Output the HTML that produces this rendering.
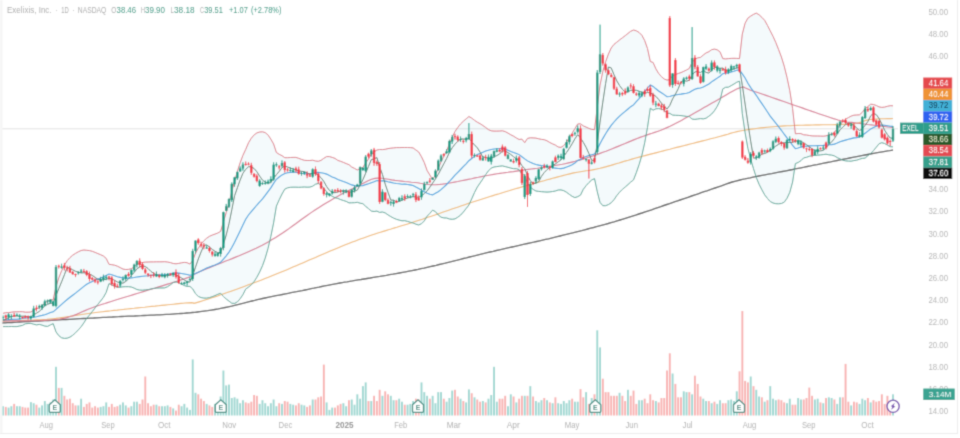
<!DOCTYPE html>
<html><head><meta charset="utf-8">
<style>
html,body{margin:0;padding:0;background:#fff;}
body{width:960px;height:438px;overflow:hidden;position:relative;font-family:"Liberation Sans",sans-serif;}
#chart{position:absolute;left:0;top:0;}
</style></head><body>
<svg id="chart" width="960" height="438" viewBox="0 0 960 438">
<defs><filter id="bl" x="-1%" y="-1%" width="102%" height="102%"><feConvolveMatrix order="3" kernelMatrix="0.02768 0.11101 0.02768 0.11101 0.44521 0.11101 0.02768 0.11101 0.02768" edgeMode="duplicate" preserveAlpha="false"/></filter></defs>
<rect width="960" height="438" fill="#fff"/>
<g filter="url(#bl)">
<rect width="960" height="438" fill="#fff"/>
<line x1="2" y1="128.8" x2="898" y2="128.8" stroke="#e3e3e3" stroke-width="1"/>
<path d="M3.0,313.3 L5.8,312.7 L8.6,312.6 L11.4,312.2 L14.1,311.8 L16.9,311.8 L19.7,311.7 L22.5,311.7 L25.3,312.2 L28.1,312.2 L30.9,312.0 L33.7,310.2 L36.5,308.8 L39.3,307.6 L42.0,305.7 L44.8,303.2 L47.6,301.0 L50.4,300.2 L53.2,299.8 L56.0,286.6 L58.8,277.8 L61.6,270.8 L64.4,265.3 L67.2,260.7 L70.0,257.6 L72.7,255.2 L75.5,253.4 L78.3,251.8 L81.1,250.5 L83.9,250.0 L86.7,250.3 L89.5,250.6 L92.3,251.3 L95.1,252.4 L97.9,253.6 L100.6,254.7 L103.4,256.0 L106.2,258.4 L109.0,264.3 L111.8,264.7 L114.6,265.2 L117.4,266.2 L120.2,267.6 L123.0,269.1 L125.8,269.5 L128.5,269.4 L131.3,268.7 L134.1,266.9 L136.9,264.4 L139.7,263.2 L142.5,262.5 L145.3,262.1 L148.1,262.0 L150.9,261.9 L153.6,261.9 L156.4,261.8 L159.2,261.8 L162.0,261.8 L164.8,261.7 L167.6,262.0 L170.4,262.6 L173.2,263.5 L176.0,263.8 L178.8,263.4 L181.5,262.8 L184.3,262.4 L187.1,262.7 L189.9,264.1 L192.7,260.6 L195.5,253.3 L198.3,248.1 L201.1,244.1 L203.9,240.8 L206.7,238.2 L209.5,236.3 L212.2,235.1 L215.0,234.1 L217.8,233.0 L220.6,231.4 L223.4,221.9 L226.2,212.6 L229.0,203.2 L231.8,191.6 L234.6,181.0 L237.4,171.3 L240.1,162.9 L242.9,155.4 L245.7,149.4 L248.5,142.8 L251.3,138.2 L254.1,134.9 L256.9,132.9 L259.7,132.0 L262.5,131.8 L265.2,132.6 L268.0,134.9 L270.8,139.1 L273.6,144.0 L276.4,152.5 L279.2,154.3 L282.0,155.7 L284.8,157.7 L287.6,157.7 L290.4,157.5 L293.1,157.4 L295.9,157.4 L298.7,158.3 L301.5,159.4 L304.3,160.3 L307.1,160.5 L309.9,160.5 L312.7,160.2 L315.5,161.0 L318.3,161.3 L321.0,160.4 L323.8,158.3 L326.6,156.6 L329.4,156.6 L332.2,157.4 L335.0,158.4 L337.8,160.4 L340.6,161.3 L343.4,162.4 L346.2,163.6 L349.0,164.7 L351.7,167.0 L354.5,168.4 L357.3,170.0 L360.1,168.5 L362.9,167.4 L365.7,162.9 L368.5,159.1 L371.3,154.2 L374.1,152.0 L376.9,150.0 L379.6,149.5 L382.4,149.6 L385.2,149.3 L388.0,148.6 L390.8,148.2 L393.6,147.9 L396.4,147.6 L399.2,147.6 L402.0,147.5 L404.8,147.5 L407.5,147.5 L410.3,147.6 L413.1,147.9 L415.9,150.0 L418.7,152.0 L421.5,156.8 L424.3,162.6 L427.1,170.5 L429.9,175.1 L432.6,179.6 L435.4,175.1 L438.2,168.7 L441.0,161.9 L443.8,156.3 L446.6,150.9 L449.4,143.9 L452.2,137.2 L455.0,131.5 L457.8,127.4 L460.6,123.9 L463.3,121.3 L466.1,118.9 L468.9,116.5 L471.7,118.1 L474.5,120.3 L477.3,122.2 L480.1,123.7 L482.9,125.5 L485.7,127.5 L488.4,129.6 L491.2,130.8 L494.0,131.1 L496.8,131.1 L499.6,131.0 L502.4,130.8 L505.2,131.6 L508.0,133.1 L510.8,134.8 L513.6,136.2 L516.4,138.0 L519.1,139.5 L521.9,139.1 L524.7,142.7 L527.5,138.4 L530.3,137.8 L533.1,137.9 L535.9,138.1 L538.7,138.8 L541.5,139.4 L544.2,139.7 L547.0,140.8 L549.8,142.5 L552.6,143.9 L555.4,145.1 L558.2,147.0 L561.0,147.4 L563.8,145.5 L566.6,142.0 L569.4,137.4 L572.1,133.2 L574.9,128.6 L577.7,124.0 L580.5,123.8 L583.3,125.9 L586.1,127.1 L588.9,128.4 L591.7,129.4 L594.5,129.7 L597.3,106.9 L600.0,85.2 L602.8,71.5 L605.6,61.8 L608.4,54.2 L611.2,48.0 L614.0,44.4 L616.8,42.2 L619.6,39.9 L622.4,37.8 L625.2,35.7 L628.0,33.4 L630.7,31.3 L633.5,30.0 L636.3,30.8 L639.1,32.5 L641.9,35.3 L644.7,40.6 L647.5,48.6 L650.3,61.5 L653.1,62.5 L655.9,68.9 L658.6,73.4 L661.4,76.6 L664.2,79.0 L667.0,80.1 L669.8,79.6 L672.6,75.8 L675.4,74.7 L678.2,73.5 L681.0,72.6 L683.8,71.3 L686.5,70.0 L689.3,68.4 L692.1,62.3 L694.9,59.2 L697.7,57.9 L700.5,57.4 L703.3,55.0 L706.1,52.9 L708.9,51.7 L711.6,49.7 L714.4,49.1 L717.2,49.8 L720.0,51.8 L722.8,58.6 L725.6,58.9 L728.4,58.6 L731.2,58.4 L734.0,58.3 L736.8,58.4 L739.5,58.6 L742.3,34.1 L745.1,23.2 L747.9,18.1 L750.7,16.1 L753.5,14.4 L756.3,13.1 L759.1,14.8 L761.9,17.4 L764.7,20.4 L767.5,25.5 L770.2,30.8 L773.0,36.3 L775.8,42.5 L778.6,49.6 L781.4,57.0 L784.2,66.1 L787.0,77.4 L789.8,90.7 L792.6,108.6 L795.4,133.8 L798.1,133.5 L800.9,133.6 L803.7,134.8 L806.5,135.0 L809.3,135.5 L812.1,135.9 L814.9,136.0 L817.7,136.0 L820.5,136.1 L823.2,136.2 L826.0,135.9 L828.8,134.7 L831.6,134.0 L834.4,132.3 L837.2,128.7 L840.0,124.8 L842.8,121.6 L845.6,119.2 L848.4,117.6 L851.1,116.1 L853.9,115.2 L856.7,115.0 L859.5,114.8 L862.3,112.3 L865.1,108.5 L867.9,106.5 L870.7,104.2 L873.5,104.5 L876.3,105.5 L879.0,106.9 L881.8,107.4 L884.6,107.1 L887.4,106.3 L890.2,105.7 L893.0,105.8 L893.0,146.9 L890.2,146.7 L887.4,145.1 L884.6,143.5 L881.8,142.7 L879.0,143.8 L876.3,147.2 L873.5,150.6 L870.7,153.6 L867.9,155.7 L865.1,158.1 L862.3,158.4 L859.5,159.2 L856.7,160.2 L853.9,160.6 L851.1,161.2 L848.4,161.1 L845.6,160.9 L842.8,160.2 L840.0,158.9 L837.2,157.6 L834.4,155.9 L831.6,155.1 L828.8,154.8 L826.0,154.2 L823.2,154.6 L820.5,154.9 L817.7,155.2 L814.9,155.4 L812.1,155.6 L809.3,156.3 L806.5,157.3 L803.7,157.9 L800.9,160.7 L798.1,162.5 L795.4,163.6 L792.6,182.0 L789.8,192.3 L787.0,198.3 L784.2,202.2 L781.4,203.5 L778.6,203.8 L775.8,203.7 L773.0,203.0 L770.2,201.5 L767.5,198.5 L764.7,194.9 L761.9,189.8 L759.1,184.3 L756.3,177.5 L753.5,168.7 L750.7,159.1 L747.9,148.4 L745.1,132.7 L742.3,113.7 L739.5,81.2 L736.8,82.2 L734.0,84.0 L731.2,85.6 L728.4,87.2 L725.6,87.3 L722.8,88.9 L720.0,100.5 L717.2,106.4 L714.4,110.8 L711.6,114.1 L708.9,116.2 L706.1,118.2 L703.3,118.9 L700.5,118.6 L697.7,119.0 L694.9,119.4 L692.1,119.1 L689.3,116.6 L686.5,116.4 L683.8,116.0 L681.0,115.6 L678.2,115.4 L675.4,115.3 L672.6,115.1 L669.8,113.4 L667.0,113.2 L664.2,110.2 L661.4,109.1 L658.6,108.6 L655.9,108.8 L653.1,110.2 L650.3,108.2 L647.5,127.4 L644.7,142.8 L641.9,155.3 L639.1,164.6 L636.3,172.7 L633.5,179.9 L630.7,182.1 L628.0,184.6 L625.2,187.0 L622.4,189.4 L619.6,192.2 L616.8,195.5 L614.0,199.7 L611.2,202.8 L608.4,204.6 L605.6,205.7 L602.8,205.7 L600.0,202.4 L597.3,191.8 L594.5,178.6 L591.7,180.0 L588.9,182.6 L586.1,185.7 L583.3,189.3 L580.5,195.1 L577.7,196.7 L574.9,197.6 L572.1,196.3 L569.4,194.4 L566.6,192.3 L563.8,190.7 L561.0,189.9 L558.2,190.0 L555.4,191.0 L552.6,191.5 L549.8,191.9 L547.0,192.1 L544.2,191.9 L541.5,191.7 L538.7,191.4 L535.9,191.0 L533.1,189.4 L530.3,186.8 L527.5,183.4 L524.7,175.2 L521.9,174.5 L519.1,169.6 L516.4,168.7 L513.6,168.7 L510.8,168.1 L508.0,167.3 L505.2,166.6 L502.4,165.9 L499.6,166.2 L496.8,166.6 L494.0,167.0 L491.2,168.1 L488.4,170.9 L485.7,174.6 L482.9,178.9 L480.1,183.0 L477.3,187.1 L474.5,192.5 L471.7,198.9 L468.9,205.0 L466.1,208.6 L463.3,212.1 L460.6,215.1 L457.8,217.2 L455.0,218.9 L452.2,219.3 L449.4,219.0 L446.6,218.0 L443.8,217.9 L441.0,217.2 L438.2,214.9 L435.4,211.6 L432.6,210.2 L429.9,213.3 L427.1,216.2 L424.3,220.9 L421.5,223.7 L418.7,225.0 L415.9,224.2 L413.1,223.0 L410.3,222.3 L407.5,221.4 L404.8,220.7 L402.0,220.8 L399.2,220.1 L396.4,219.3 L393.6,218.1 L390.8,216.6 L388.0,214.9 L385.2,212.9 L382.4,212.0 L379.6,212.4 L376.9,211.1 L374.1,211.5 L371.3,211.1 L368.5,208.6 L365.7,206.4 L362.9,203.7 L360.1,203.2 L357.3,202.3 L354.5,202.7 L351.7,202.8 L349.0,202.9 L346.2,201.4 L343.4,200.5 L340.6,199.6 L337.8,198.4 L335.0,197.7 L332.2,196.3 L329.4,194.5 L326.6,191.7 L323.8,188.3 L321.0,185.0 L318.3,183.5 L315.5,184.2 L312.7,186.2 L309.9,187.1 L307.1,187.2 L304.3,187.0 L301.5,187.2 L298.7,187.3 L295.9,187.2 L293.1,187.2 L290.4,187.3 L287.6,187.8 L284.8,189.1 L282.0,194.0 L279.2,199.8 L276.4,206.1 L273.6,222.9 L270.8,236.6 L268.0,248.5 L265.2,258.2 L262.5,265.7 L259.7,271.9 L256.9,277.2 L254.1,281.6 L251.3,284.9 L248.5,287.1 L245.7,289.1 L242.9,294.7 L240.1,298.8 L237.4,301.9 L234.6,303.4 L231.8,303.3 L229.0,301.1 L226.2,299.0 L223.4,296.5 L220.6,293.3 L217.8,294.3 L215.0,295.6 L212.2,296.7 L209.5,297.6 L206.7,298.1 L203.9,298.1 L201.1,297.6 L198.3,296.4 L195.5,293.7 L192.7,288.9 L189.9,286.4 L187.1,286.4 L184.3,285.6 L181.5,284.1 L178.8,282.7 L176.0,281.9 L173.2,282.6 L170.4,284.8 L167.6,286.7 L164.8,287.9 L162.0,288.0 L159.2,288.0 L156.4,288.1 L153.6,288.4 L150.9,289.0 L148.1,289.6 L145.3,289.9 L142.5,290.2 L139.7,290.1 L136.9,289.5 L134.1,288.1 L131.3,287.0 L128.5,286.7 L125.8,286.7 L123.0,286.8 L120.2,287.2 L117.4,287.3 L114.6,286.3 L111.8,284.9 L109.0,283.6 L106.2,292.4 L103.4,297.4 L100.6,301.0 L97.9,304.3 L95.1,307.9 L92.3,311.5 L89.5,315.1 L86.7,318.3 L83.9,322.8 L81.1,326.8 L78.3,329.9 L75.5,332.8 L72.7,335.3 L70.0,337.1 L67.2,338.2 L64.4,338.4 L61.6,337.8 L58.8,335.7 L56.0,331.9 L53.2,323.7 L50.4,324.9 L47.6,326.4 L44.8,326.1 L42.0,325.1 L39.3,324.4 L36.5,324.9 L33.7,324.2 L30.9,323.4 L28.1,323.5 L25.3,323.8 L22.5,325.4 L19.7,326.0 L16.9,326.6 L14.1,326.6 L11.4,326.5 L8.6,326.6 L5.8,326.6 L3.0,326.6 Z" fill="#3aa6c0" fill-opacity="0.055" stroke="none"/>
<path d="M2.0,323.0 L3.6,322.9 L5.4,322.8 L7.4,322.7 L9.5,322.6 L11.8,322.5 L14.3,322.3 L16.9,322.2 L19.6,322.0 L22.4,321.9 L25.3,321.7 L28.4,321.6 L31.5,321.4 L34.7,321.2 L38.0,321.0 L41.3,320.9 L44.8,320.7 L48.2,320.5 L51.7,320.3 L55.2,320.1 L58.8,319.9 L62.4,319.7 L65.9,319.5 L69.5,319.3 L73.1,319.1 L76.6,318.9 L80.1,318.7 L83.6,318.5 L87.0,318.3 L90.3,318.1 L93.6,318.0 L96.9,317.8 L100.0,317.6 L103.0,317.4 L106.1,317.3 L109.1,317.1 L112.3,317.0 L115.4,316.8 L118.5,316.7 L121.7,316.5 L124.9,316.4 L128.1,316.2 L131.3,316.1 L134.5,316.0 L137.7,315.8 L140.9,315.7 L144.1,315.5 L147.3,315.4 L150.5,315.2 L153.6,315.1 L156.8,314.9 L159.9,314.8 L163.0,314.6 L166.1,314.4 L169.2,314.3 L172.2,314.1 L175.2,313.9 L178.1,313.7 L181.1,313.5 L183.9,313.3 L186.7,313.0 L189.5,312.8 L192.2,312.5 L194.9,312.3 L197.5,312.0 L200.0,311.7 L203.9,311.2 L207.7,310.7 L211.3,310.1 L214.9,309.5 L218.4,308.9 L221.9,308.2 L225.2,307.5 L228.4,306.8 L231.6,306.1 L234.7,305.3 L237.8,304.6 L240.7,303.9 L243.6,303.2 L246.5,302.4 L249.3,301.7 L252.0,301.0 L254.7,300.4 L257.3,299.7 L259.9,299.1 L262.5,298.5 L265.0,298.0 L268.9,297.2 L272.6,296.4 L276.0,295.7 L279.3,295.1 L282.4,294.5 L285.4,293.9 L288.3,293.3 L291.1,292.7 L293.9,292.2 L296.6,291.7 L299.4,291.1 L302.2,290.6 L305.0,290.0 L308.2,289.3 L311.1,288.7 L313.8,288.2 L316.4,287.6 L319.0,287.1 L321.7,286.5 L324.5,285.9 L327.7,285.3 L331.3,284.6 L335.3,283.9 L340.0,283.0 L342.3,282.6 L344.6,282.2 L347.1,281.8 L349.7,281.3 L352.4,280.9 L355.2,280.4 L358.1,279.9 L361.0,279.5 L364.1,279.0 L367.1,278.5 L370.2,278.0 L373.4,277.4 L376.6,276.9 L379.8,276.4 L383.1,275.8 L386.3,275.3 L389.6,274.7 L392.9,274.2 L396.1,273.6 L399.4,273.0 L402.6,272.4 L405.7,271.8 L408.9,271.2 L412.0,270.6 L415.0,270.0 L418.0,269.4 L421.0,268.7 L424.0,268.1 L427.1,267.4 L430.1,266.7 L433.1,266.0 L436.1,265.3 L439.2,264.5 L442.2,263.8 L445.2,263.1 L448.3,262.3 L451.3,261.6 L454.3,260.8 L457.3,260.1 L460.4,259.3 L463.4,258.5 L466.4,257.8 L469.4,257.0 L472.3,256.3 L475.3,255.6 L478.3,254.8 L481.2,254.1 L484.2,253.4 L487.1,252.7 L490.0,252.0 L493.2,251.3 L496.3,250.5 L499.5,249.8 L502.6,249.1 L505.7,248.4 L508.9,247.7 L512.0,247.0 L515.1,246.3 L518.2,245.6 L521.3,244.9 L524.4,244.2 L527.5,243.5 L530.5,242.8 L533.6,242.2 L536.6,241.5 L539.6,240.8 L542.6,240.1 L545.5,239.4 L548.5,238.8 L551.4,238.1 L554.3,237.4 L557.2,236.7 L560.0,236.0 L563.2,235.2 L566.4,234.4 L569.5,233.6 L572.6,232.9 L575.7,232.1 L578.7,231.3 L581.7,230.6 L584.7,229.8 L587.7,229.0 L590.6,228.2 L593.6,227.5 L596.5,226.7 L599.4,225.9 L602.3,225.1 L605.2,224.3 L608.2,223.5 L611.1,222.6 L614.0,221.8 L617.0,220.9 L620.0,220.0 L623.0,219.1 L626.1,218.1 L629.2,217.1 L632.4,216.1 L635.6,215.1 L638.8,214.0 L642.0,213.0 L645.2,211.9 L648.4,210.8 L651.6,209.8 L654.7,208.7 L657.8,207.6 L660.8,206.6 L663.8,205.5 L666.8,204.5 L669.6,203.6 L672.4,202.6 L675.0,201.7 L677.6,200.8 L680.0,200.0 L684.2,198.6 L688.0,197.3 L691.6,196.0 L695.0,194.9 L698.2,193.8 L701.2,192.7 L704.1,191.7 L706.9,190.8 L709.6,189.8 L712.3,188.9 L715.0,188.0 L718.4,186.8 L721.4,185.8 L724.0,184.8 L726.6,183.9 L729.2,183.0 L732.2,182.0 L735.7,181.1 L740.0,180.0 L742.4,179.4 L744.9,178.9 L747.5,178.3 L750.2,177.8 L752.9,177.2 L755.8,176.6 L758.8,176.0 L761.9,175.4 L765.0,174.8 L768.3,174.2 L771.7,173.6 L775.2,172.9 L778.7,172.2 L782.4,171.5 L786.1,170.8 L790.0,170.0 L792.6,169.5 L795.3,168.9 L798.1,168.4 L801.1,167.8 L804.2,167.2 L807.3,166.5 L810.5,165.9 L813.8,165.2 L817.1,164.6 L820.5,163.9 L823.8,163.2 L827.2,162.5 L830.6,161.9 L833.9,161.2 L837.2,160.5 L840.4,159.9 L843.6,159.2 L846.7,158.6 L849.7,158.0 L852.6,157.4 L855.4,156.9 L858.0,156.4 L860.5,155.9 L862.8,155.4 L865.0,155.0 L870.3,154.0 L874.9,153.1 L878.9,152.4 L882.2,151.8 L885.1,151.3 L887.5,150.9 L889.6,150.6 L891.4,150.3 L893.0,150.0" fill="none" stroke="#555555" stroke-width="1.35"/>
<path d="M2.0,321.0 L3.7,320.9 L5.7,320.9 L8.0,320.8 L10.6,320.8 L13.4,320.7 L16.4,320.6 L19.6,320.5 L22.9,320.4 L26.3,320.3 L29.7,320.2 L33.2,320.1 L36.7,319.9 L40.2,319.7 L43.6,319.5 L46.9,319.3 L50.0,319.0 L53.0,318.7 L55.9,318.4 L58.8,318.0 L61.5,317.6 L64.3,317.2 L67.1,316.8 L69.9,316.4 L72.7,315.9 L75.6,315.5 L78.6,315.0 L81.7,314.5 L85.0,314.0 L88.4,313.5 L92.1,313.0 L95.9,312.5 L100.0,312.0 L102.5,311.7 L105.2,311.4 L108.0,311.1 L110.9,310.8 L114.0,310.4 L117.2,310.1 L120.4,309.7 L123.8,309.4 L127.2,309.0 L130.6,308.6 L134.1,308.3 L137.7,307.9 L141.2,307.5 L144.7,307.2 L148.2,306.8 L151.6,306.4 L155.0,306.1 L158.4,305.7 L161.6,305.4 L164.8,305.1 L167.9,304.8 L170.8,304.5 L173.6,304.2 L176.2,303.9 L178.7,303.6 L181.0,303.4 L183.1,303.2 L185.0,303.0 L191.7,302.6 L193.6,302.9 L193.8,303.4 L194.9,303.1 L200.0,301.6 L202.0,301.0 L204.2,300.3 L206.6,299.5 L209.1,298.7 L211.8,297.8 L214.6,296.9 L217.6,295.9 L220.7,294.8 L223.8,293.7 L227.1,292.6 L230.4,291.4 L233.8,290.2 L237.3,289.0 L240.7,287.7 L244.2,286.4 L247.8,285.1 L251.3,283.8 L254.8,282.5 L258.2,281.2 L261.6,279.9 L265.0,278.6 L267.8,277.5 L270.8,276.3 L273.8,275.1 L276.9,273.8 L280.0,272.5 L283.2,271.2 L286.4,269.9 L289.7,268.5 L292.9,267.1 L296.2,265.7 L299.5,264.3 L302.7,262.9 L306.0,261.5 L309.2,260.1 L312.4,258.7 L315.5,257.4 L318.6,256.0 L321.6,254.7 L324.6,253.5 L327.4,252.3 L330.2,251.1 L332.8,250.0 L335.3,248.9 L337.7,247.9 L340.0,247.0 L344.7,245.1 L348.7,243.5 L352.3,242.1 L355.5,240.9 L358.3,239.8 L361.0,238.8 L363.6,237.9 L366.2,237.0 L368.9,236.1 L371.8,235.1 L375.0,234.0 L377.8,233.1 L380.5,232.2 L383.2,231.4 L385.8,230.6 L388.4,229.8 L391.1,229.0 L393.9,228.1 L396.8,227.3 L399.9,226.3 L403.3,225.3 L406.9,224.2 L410.8,223.0 L415.0,221.6 L417.4,220.8 L419.8,220.0 L422.4,219.2 L425.0,218.3 L427.8,217.3 L430.6,216.4 L433.5,215.4 L436.4,214.4 L439.4,213.4 L442.5,212.3 L445.6,211.2 L448.7,210.2 L451.9,209.1 L455.1,208.0 L458.3,206.9 L461.5,205.8 L464.8,204.7 L468.0,203.6 L471.2,202.6 L474.4,201.5 L477.6,200.4 L480.8,199.4 L483.9,198.4 L487.0,197.4 L490.0,196.5 L493.0,195.6 L496.1,194.6 L499.3,193.7 L502.4,192.7 L505.6,191.7 L508.9,190.8 L512.1,189.8 L515.4,188.8 L518.7,187.9 L521.9,186.9 L525.2,186.0 L528.4,185.1 L531.6,184.1 L534.8,183.2 L537.9,182.4 L540.9,181.5 L544.0,180.7 L546.9,179.8 L549.8,179.1 L552.6,178.3 L555.3,177.6 L557.9,176.9 L560.4,176.2 L562.7,175.6 L565.0,175.0 L569.7,173.9 L573.7,172.9 L577.3,172.2 L580.5,171.7 L583.3,171.2 L586.0,170.8 L588.6,170.5 L591.2,170.1 L593.9,169.6 L596.8,169.0 L600.0,168.3 L602.8,167.6 L605.5,166.9 L608.2,166.1 L610.8,165.4 L613.4,164.6 L616.1,163.8 L618.9,163.0 L621.8,162.1 L624.9,161.1 L628.3,160.2 L631.9,159.1 L635.8,158.0 L640.0,156.9 L642.4,156.3 L645.0,155.6 L647.7,154.9 L650.6,154.1 L653.6,153.4 L656.7,152.6 L659.9,151.7 L663.2,150.9 L666.5,150.0 L669.9,149.2 L673.3,148.3 L676.7,147.4 L680.1,146.6 L683.6,145.7 L686.9,144.9 L690.2,144.0 L693.5,143.2 L696.6,142.4 L699.7,141.6 L702.6,140.9 L705.4,140.2 L708.1,139.5 L710.6,138.8 L712.9,138.2 L715.0,137.7 L720.5,136.2 L724.6,135.1 L727.8,134.2 L730.3,133.4 L732.5,132.8 L734.6,132.2 L737.0,131.6 L740.0,131.0 L742.8,130.5 L745.7,130.0 L748.6,129.5 L751.6,129.1 L754.7,128.7 L757.8,128.3 L760.8,127.9 L763.9,127.6 L767.0,127.3 L770.0,127.0 L773.0,126.7 L775.8,126.5 L778.7,126.3 L781.5,126.1 L784.4,125.9 L787.3,125.8 L790.3,125.7 L793.4,125.5 L796.6,125.4 L800.0,125.3 L802.8,125.2 L805.8,125.1 L809.0,125.1 L812.4,125.0 L815.7,124.9 L819.2,124.9 L822.6,124.8 L825.9,124.8 L829.1,124.7 L832.2,124.7 L835.1,124.6 L837.7,124.6 L840.0,124.5 L844.8,124.4 L848.2,124.3 L850.9,124.1 L853.3,123.9 L856.0,123.5 L859.4,122.6 L862.6,121.5 L865.9,120.4 L870.0,119.5 L873.0,119.2 L876.6,119.0 L880.4,118.8 L884.3,118.7 L887.8,118.6 L890.8,118.6 L893.0,118.5" fill="none" stroke="#efb874" stroke-width="1.1"/>
<path d="M2.0,321.0 L3.7,321.0 L5.8,320.9 L8.1,320.9 L10.7,320.9 L13.6,320.9 L16.6,320.9 L19.9,320.9 L23.3,320.9 L26.7,320.9 L30.3,320.9 L33.9,320.8 L37.5,320.7 L41.0,320.6 L44.5,320.4 L48.0,320.2 L51.2,320.0 L54.4,319.7 L57.3,319.4 L60.0,319.0 L63.5,318.4 L66.7,317.6 L69.5,316.8 L72.2,316.0 L74.6,315.1 L77.1,314.1 L79.6,313.0 L82.2,311.8 L85.0,310.6 L88.1,309.3 L91.5,308.0 L95.5,306.5 L100.0,305.0 L102.3,304.3 L104.9,303.5 L107.5,302.6 L110.4,301.7 L113.4,300.8 L116.5,299.8 L119.7,298.8 L123.0,297.8 L126.4,296.8 L129.9,295.7 L133.4,294.6 L137.0,293.5 L140.5,292.5 L144.1,291.4 L147.6,290.3 L151.1,289.2 L154.6,288.2 L158.0,287.1 L161.3,286.1 L164.5,285.1 L167.6,284.1 L170.6,283.2 L173.4,282.3 L176.1,281.5 L178.7,280.7 L181.0,279.9 L183.1,279.2 L185.0,278.6 L191.7,276.3 L193.6,275.4 L193.8,274.9 L194.9,273.9 L200.0,271.5 L202.0,270.6 L204.3,269.7 L206.8,268.7 L209.5,267.6 L212.3,266.4 L215.4,265.2 L218.5,264.0 L221.8,262.7 L225.1,261.3 L228.6,260.0 L232.1,258.6 L235.6,257.1 L239.1,255.7 L242.6,254.2 L246.1,252.7 L249.5,251.2 L252.8,249.7 L256.1,248.2 L259.2,246.7 L262.2,245.2 L265.0,243.7 L268.6,241.7 L272.1,239.6 L275.7,237.5 L279.1,235.3 L282.6,233.0 L285.9,230.7 L289.3,228.4 L292.5,226.0 L295.7,223.8 L298.7,221.5 L301.7,219.3 L304.6,217.2 L307.4,215.2 L310.0,213.4 L312.6,211.6 L315.0,210.0 L319.4,207.2 L323.2,204.8 L326.6,202.7 L329.7,200.9 L332.5,199.2 L335.0,197.8 L337.5,196.4 L340.0,195.0 L343.6,193.1 L346.5,191.6 L349.1,190.3 L351.8,189.1 L355.0,187.6 L358.0,186.0 L361.3,184.3 L364.7,182.4 L368.1,180.7 L371.6,179.3 L375.0,178.4 L378.3,178.1 L381.7,178.2 L385.0,178.7 L388.3,179.3 L391.7,179.9 L395.0,180.4 L398.3,180.7 L401.5,181.1 L404.7,181.5 L408.0,181.8 L411.4,182.2 L415.0,182.5 L417.7,182.8 L420.3,183.3 L422.9,183.7 L425.6,184.2 L428.6,184.5 L431.9,184.7 L435.6,184.7 L440.0,184.4 L442.5,184.1 L445.2,183.7 L448.1,183.3 L451.2,182.7 L454.5,182.1 L457.8,181.5 L461.2,180.8 L464.7,180.1 L468.2,179.4 L471.6,178.7 L475.0,177.9 L478.3,177.3 L481.5,176.6 L484.5,176.0 L487.4,175.5 L490.0,175.0 L493.7,174.4 L497.0,173.8 L500.0,173.4 L502.7,173.0 L505.3,172.6 L507.9,172.3 L510.5,171.9 L513.4,171.6 L516.5,171.1 L520.0,170.6 L522.6,170.2 L525.3,169.8 L528.2,169.4 L531.2,169.0 L534.3,168.6 L537.4,168.2 L540.6,167.7 L543.8,167.3 L547.0,166.8 L550.2,166.3 L553.3,165.8 L556.4,165.3 L559.4,164.8 L562.3,164.3 L565.0,163.7 L568.5,162.9 L571.9,162.1 L575.1,161.3 L578.3,160.4 L581.3,159.6 L584.3,158.7 L587.3,157.7 L590.4,156.7 L593.5,155.7 L596.7,154.6 L600.0,153.4 L602.9,152.3 L606.0,151.2 L609.1,150.0 L612.3,148.7 L615.5,147.4 L618.7,146.1 L621.9,144.8 L625.1,143.5 L628.3,142.1 L631.3,140.9 L634.3,139.6 L637.2,138.5 L640.0,137.4 L643.3,136.2 L646.4,135.1 L649.3,134.1 L652.0,133.3 L654.7,132.4 L657.4,131.5 L660.2,130.5 L663.2,129.3 L666.4,127.9 L670.0,126.3 L672.6,125.0 L675.4,123.6 L678.4,122.0 L681.4,120.4 L684.6,118.6 L687.9,116.8 L691.2,114.9 L694.5,113.1 L697.7,111.2 L700.9,109.4 L704.0,107.6 L707.0,105.9 L709.9,104.3 L712.5,102.8 L715.0,101.4 L719.2,99.0 L723.0,96.8 L726.5,94.7 L729.7,92.8 L732.6,91.2 L735.3,89.7 L737.7,88.6 L740.0,87.7 L743.3,86.9 L745.0,87.8 L750.0,90.0 L752.1,90.7 L754.4,91.5 L757.0,92.3 L759.8,93.3 L762.8,94.3 L766.0,95.4 L769.3,96.5 L772.7,97.7 L776.1,98.9 L779.6,100.1 L783.1,101.3 L786.6,102.5 L790.0,103.7 L792.8,104.7 L795.8,105.7 L798.9,106.8 L802.2,107.9 L805.4,109.1 L808.8,110.2 L812.1,111.4 L815.4,112.5 L818.7,113.7 L821.9,114.8 L825.0,115.8 L828.0,116.8 L830.8,117.7 L833.4,118.6 L835.8,119.3 L838.0,120.0 L843.3,121.4 L846.6,122.1 L849.1,122.3 L851.6,122.4 L855.0,122.8 L857.8,123.2 L861.0,123.6 L864.3,124.0 L867.8,124.5 L871.2,124.9 L874.4,125.3 L877.4,125.7 L880.0,126.0 L884.4,126.5 L888.1,127.0 L890.9,127.3 L893.0,127.6" fill="none" stroke="#d67a92" stroke-width="1.15"/>
<path d="M3.0,313.3 L5.8,312.7 L8.6,312.6 L11.4,312.2 L14.1,311.8 L16.9,311.8 L19.7,311.7 L22.5,311.7 L25.3,312.2 L28.1,312.2 L30.9,312.0 L33.7,310.2 L36.5,308.8 L39.3,307.6 L42.0,305.7 L44.8,303.2 L47.6,301.0 L50.4,300.2 L53.2,299.8 L56.0,286.6 L58.8,277.8 L61.6,270.8 L64.4,265.3 L67.2,260.7 L70.0,257.6 L72.7,255.2 L75.5,253.4 L78.3,251.8 L81.1,250.5 L83.9,250.0 L86.7,250.3 L89.5,250.6 L92.3,251.3 L95.1,252.4 L97.9,253.6 L100.6,254.7 L103.4,256.0 L106.2,258.4 L109.0,264.3 L111.8,264.7 L114.6,265.2 L117.4,266.2 L120.2,267.6 L123.0,269.1 L125.8,269.5 L128.5,269.4 L131.3,268.7 L134.1,266.9 L136.9,264.4 L139.7,263.2 L142.5,262.5 L145.3,262.1 L148.1,262.0 L150.9,261.9 L153.6,261.9 L156.4,261.8 L159.2,261.8 L162.0,261.8 L164.8,261.7 L167.6,262.0 L170.4,262.6 L173.2,263.5 L176.0,263.8 L178.8,263.4 L181.5,262.8 L184.3,262.4 L187.1,262.7 L189.9,264.1 L192.7,260.6 L195.5,253.3 L198.3,248.1 L201.1,244.1 L203.9,240.8 L206.7,238.2 L209.5,236.3 L212.2,235.1 L215.0,234.1 L217.8,233.0 L220.6,231.4 L223.4,221.9 L226.2,212.6 L229.0,203.2 L231.8,191.6 L234.6,181.0 L237.4,171.3 L240.1,162.9 L242.9,155.4 L245.7,149.4 L248.5,142.8 L251.3,138.2 L254.1,134.9 L256.9,132.9 L259.7,132.0 L262.5,131.8 L265.2,132.6 L268.0,134.9 L270.8,139.1 L273.6,144.0 L276.4,152.5 L279.2,154.3 L282.0,155.7 L284.8,157.7 L287.6,157.7 L290.4,157.5 L293.1,157.4 L295.9,157.4 L298.7,158.3 L301.5,159.4 L304.3,160.3 L307.1,160.5 L309.9,160.5 L312.7,160.2 L315.5,161.0 L318.3,161.3 L321.0,160.4 L323.8,158.3 L326.6,156.6 L329.4,156.6 L332.2,157.4 L335.0,158.4 L337.8,160.4 L340.6,161.3 L343.4,162.4 L346.2,163.6 L349.0,164.7 L351.7,167.0 L354.5,168.4 L357.3,170.0 L360.1,168.5 L362.9,167.4 L365.7,162.9 L368.5,159.1 L371.3,154.2 L374.1,152.0 L376.9,150.0 L379.6,149.5 L382.4,149.6 L385.2,149.3 L388.0,148.6 L390.8,148.2 L393.6,147.9 L396.4,147.6 L399.2,147.6 L402.0,147.5 L404.8,147.5 L407.5,147.5 L410.3,147.6 L413.1,147.9 L415.9,150.0 L418.7,152.0 L421.5,156.8 L424.3,162.6 L427.1,170.5 L429.9,175.1 L432.6,179.6 L435.4,175.1 L438.2,168.7 L441.0,161.9 L443.8,156.3 L446.6,150.9 L449.4,143.9 L452.2,137.2 L455.0,131.5 L457.8,127.4 L460.6,123.9 L463.3,121.3 L466.1,118.9 L468.9,116.5 L471.7,118.1 L474.5,120.3 L477.3,122.2 L480.1,123.7 L482.9,125.5 L485.7,127.5 L488.4,129.6 L491.2,130.8 L494.0,131.1 L496.8,131.1 L499.6,131.0 L502.4,130.8 L505.2,131.6 L508.0,133.1 L510.8,134.8 L513.6,136.2 L516.4,138.0 L519.1,139.5 L521.9,139.1 L524.7,142.7 L527.5,138.4 L530.3,137.8 L533.1,137.9 L535.9,138.1 L538.7,138.8 L541.5,139.4 L544.2,139.7 L547.0,140.8 L549.8,142.5 L552.6,143.9 L555.4,145.1 L558.2,147.0 L561.0,147.4 L563.8,145.5 L566.6,142.0 L569.4,137.4 L572.1,133.2 L574.9,128.6 L577.7,124.0 L580.5,123.8 L583.3,125.9 L586.1,127.1 L588.9,128.4 L591.7,129.4 L594.5,129.7 L597.3,106.9 L600.0,85.2 L602.8,71.5 L605.6,61.8 L608.4,54.2 L611.2,48.0 L614.0,44.4 L616.8,42.2 L619.6,39.9 L622.4,37.8 L625.2,35.7 L628.0,33.4 L630.7,31.3 L633.5,30.0 L636.3,30.8 L639.1,32.5 L641.9,35.3 L644.7,40.6 L647.5,48.6 L650.3,61.5 L653.1,62.5 L655.9,68.9 L658.6,73.4 L661.4,76.6 L664.2,79.0 L667.0,80.1 L669.8,79.6 L672.6,75.8 L675.4,74.7 L678.2,73.5 L681.0,72.6 L683.8,71.3 L686.5,70.0 L689.3,68.4 L692.1,62.3 L694.9,59.2 L697.7,57.9 L700.5,57.4 L703.3,55.0 L706.1,52.9 L708.9,51.7 L711.6,49.7 L714.4,49.1 L717.2,49.8 L720.0,51.8 L722.8,58.6 L725.6,58.9 L728.4,58.6 L731.2,58.4 L734.0,58.3 L736.8,58.4 L739.5,58.6 L742.3,34.1 L745.1,23.2 L747.9,18.1 L750.7,16.1 L753.5,14.4 L756.3,13.1 L759.1,14.8 L761.9,17.4 L764.7,20.4 L767.5,25.5 L770.2,30.8 L773.0,36.3 L775.8,42.5 L778.6,49.6 L781.4,57.0 L784.2,66.1 L787.0,77.4 L789.8,90.7 L792.6,108.6 L795.4,133.8 L798.1,133.5 L800.9,133.6 L803.7,134.8 L806.5,135.0 L809.3,135.5 L812.1,135.9 L814.9,136.0 L817.7,136.0 L820.5,136.1 L823.2,136.2 L826.0,135.9 L828.8,134.7 L831.6,134.0 L834.4,132.3 L837.2,128.7 L840.0,124.8 L842.8,121.6 L845.6,119.2 L848.4,117.6 L851.1,116.1 L853.9,115.2 L856.7,115.0 L859.5,114.8 L862.3,112.3 L865.1,108.5 L867.9,106.5 L870.7,104.2 L873.5,104.5 L876.3,105.5 L879.0,106.9 L881.8,107.4 L884.6,107.1 L887.4,106.3 L890.2,105.7 L893.0,105.8" fill="none" stroke="#d9707c" stroke-width="0.95"/>
<path d="M3.0,326.6 L5.8,326.6 L8.6,326.6 L11.4,326.5 L14.1,326.6 L16.9,326.6 L19.7,326.0 L22.5,325.4 L25.3,323.8 L28.1,323.5 L30.9,323.4 L33.7,324.2 L36.5,324.9 L39.3,324.4 L42.0,325.1 L44.8,326.1 L47.6,326.4 L50.4,324.9 L53.2,323.7 L56.0,331.9 L58.8,335.7 L61.6,337.8 L64.4,338.4 L67.2,338.2 L70.0,337.1 L72.7,335.3 L75.5,332.8 L78.3,329.9 L81.1,326.8 L83.9,322.8 L86.7,318.3 L89.5,315.1 L92.3,311.5 L95.1,307.9 L97.9,304.3 L100.6,301.0 L103.4,297.4 L106.2,292.4 L109.0,283.6 L111.8,284.9 L114.6,286.3 L117.4,287.3 L120.2,287.2 L123.0,286.8 L125.8,286.7 L128.5,286.7 L131.3,287.0 L134.1,288.1 L136.9,289.5 L139.7,290.1 L142.5,290.2 L145.3,289.9 L148.1,289.6 L150.9,289.0 L153.6,288.4 L156.4,288.1 L159.2,288.0 L162.0,288.0 L164.8,287.9 L167.6,286.7 L170.4,284.8 L173.2,282.6 L176.0,281.9 L178.8,282.7 L181.5,284.1 L184.3,285.6 L187.1,286.4 L189.9,286.4 L192.7,288.9 L195.5,293.7 L198.3,296.4 L201.1,297.6 L203.9,298.1 L206.7,298.1 L209.5,297.6 L212.2,296.7 L215.0,295.6 L217.8,294.3 L220.6,293.3 L223.4,296.5 L226.2,299.0 L229.0,301.1 L231.8,303.3 L234.6,303.4 L237.4,301.9 L240.1,298.8 L242.9,294.7 L245.7,289.1 L248.5,287.1 L251.3,284.9 L254.1,281.6 L256.9,277.2 L259.7,271.9 L262.5,265.7 L265.2,258.2 L268.0,248.5 L270.8,236.6 L273.6,222.9 L276.4,206.1 L279.2,199.8 L282.0,194.0 L284.8,189.1 L287.6,187.8 L290.4,187.3 L293.1,187.2 L295.9,187.2 L298.7,187.3 L301.5,187.2 L304.3,187.0 L307.1,187.2 L309.9,187.1 L312.7,186.2 L315.5,184.2 L318.3,183.5 L321.0,185.0 L323.8,188.3 L326.6,191.7 L329.4,194.5 L332.2,196.3 L335.0,197.7 L337.8,198.4 L340.6,199.6 L343.4,200.5 L346.2,201.4 L349.0,202.9 L351.7,202.8 L354.5,202.7 L357.3,202.3 L360.1,203.2 L362.9,203.7 L365.7,206.4 L368.5,208.6 L371.3,211.1 L374.1,211.5 L376.9,211.1 L379.6,212.4 L382.4,212.0 L385.2,212.9 L388.0,214.9 L390.8,216.6 L393.6,218.1 L396.4,219.3 L399.2,220.1 L402.0,220.8 L404.8,220.7 L407.5,221.4 L410.3,222.3 L413.1,223.0 L415.9,224.2 L418.7,225.0 L421.5,223.7 L424.3,220.9 L427.1,216.2 L429.9,213.3 L432.6,210.2 L435.4,211.6 L438.2,214.9 L441.0,217.2 L443.8,217.9 L446.6,218.0 L449.4,219.0 L452.2,219.3 L455.0,218.9 L457.8,217.2 L460.6,215.1 L463.3,212.1 L466.1,208.6 L468.9,205.0 L471.7,198.9 L474.5,192.5 L477.3,187.1 L480.1,183.0 L482.9,178.9 L485.7,174.6 L488.4,170.9 L491.2,168.1 L494.0,167.0 L496.8,166.6 L499.6,166.2 L502.4,165.9 L505.2,166.6 L508.0,167.3 L510.8,168.1 L513.6,168.7 L516.4,168.7 L519.1,169.6 L521.9,174.5 L524.7,175.2 L527.5,183.4 L530.3,186.8 L533.1,189.4 L535.9,191.0 L538.7,191.4 L541.5,191.7 L544.2,191.9 L547.0,192.1 L549.8,191.9 L552.6,191.5 L555.4,191.0 L558.2,190.0 L561.0,189.9 L563.8,190.7 L566.6,192.3 L569.4,194.4 L572.1,196.3 L574.9,197.6 L577.7,196.7 L580.5,195.1 L583.3,189.3 L586.1,185.7 L588.9,182.6 L591.7,180.0 L594.5,178.6 L597.3,191.8 L600.0,202.4 L602.8,205.7 L605.6,205.7 L608.4,204.6 L611.2,202.8 L614.0,199.7 L616.8,195.5 L619.6,192.2 L622.4,189.4 L625.2,187.0 L628.0,184.6 L630.7,182.1 L633.5,179.9 L636.3,172.7 L639.1,164.6 L641.9,155.3 L644.7,142.8 L647.5,127.4 L650.3,108.2 L653.1,110.2 L655.9,108.8 L658.6,108.6 L661.4,109.1 L664.2,110.2 L667.0,113.2 L669.8,113.4 L672.6,115.1 L675.4,115.3 L678.2,115.4 L681.0,115.6 L683.8,116.0 L686.5,116.4 L689.3,116.6 L692.1,119.1 L694.9,119.4 L697.7,119.0 L700.5,118.6 L703.3,118.9 L706.1,118.2 L708.9,116.2 L711.6,114.1 L714.4,110.8 L717.2,106.4 L720.0,100.5 L722.8,88.9 L725.6,87.3 L728.4,87.2 L731.2,85.6 L734.0,84.0 L736.8,82.2 L739.5,81.2 L742.3,113.7 L745.1,132.7 L747.9,148.4 L750.7,159.1 L753.5,168.7 L756.3,177.5 L759.1,184.3 L761.9,189.8 L764.7,194.9 L767.5,198.5 L770.2,201.5 L773.0,203.0 L775.8,203.7 L778.6,203.8 L781.4,203.5 L784.2,202.2 L787.0,198.3 L789.8,192.3 L792.6,182.0 L795.4,163.6 L798.1,162.5 L800.9,160.7 L803.7,157.9 L806.5,157.3 L809.3,156.3 L812.1,155.6 L814.9,155.4 L817.7,155.2 L820.5,154.9 L823.2,154.6 L826.0,154.2 L828.8,154.8 L831.6,155.1 L834.4,155.9 L837.2,157.6 L840.0,158.9 L842.8,160.2 L845.6,160.9 L848.4,161.1 L851.1,161.2 L853.9,160.6 L856.7,160.2 L859.5,159.2 L862.3,158.4 L865.1,158.1 L867.9,155.7 L870.7,153.6 L873.5,150.6 L876.3,147.2 L879.0,143.8 L881.8,142.7 L884.6,143.5 L887.4,145.1 L890.2,146.7 L893.0,146.9" fill="none" stroke="#4e9e8e" stroke-width="0.95"/>
<path d="M3.0,319.9 L5.8,319.7 L8.6,319.6 L11.4,319.4 L14.1,319.2 L16.9,319.2 L19.7,318.9 L22.5,318.5 L25.3,318.0 L28.1,317.9 L30.9,317.7 L33.7,317.2 L36.5,316.8 L39.3,316.0 L42.0,315.4 L44.8,314.7 L47.6,313.7 L50.4,312.5 L53.2,311.8 L56.0,309.3 L58.8,306.8 L61.6,304.3 L64.4,301.9 L67.2,299.5 L70.0,297.3 L72.7,295.2 L75.5,293.1 L78.3,290.9 L81.1,288.6 L83.9,286.4 L86.7,284.3 L89.5,282.8 L92.3,281.4 L95.1,280.1 L97.9,279.0 L100.6,277.9 L103.4,276.7 L106.2,275.4 L109.0,274.0 L111.8,274.8 L114.6,275.8 L117.4,276.8 L120.2,277.4 L123.0,278.0 L125.8,278.1 L128.5,278.1 L131.3,277.9 L134.1,277.5 L136.9,277.0 L139.7,276.6 L142.5,276.3 L145.3,276.0 L148.1,275.8 L150.9,275.4 L153.6,275.1 L156.4,275.0 L159.2,274.9 L162.0,274.9 L164.8,274.8 L167.6,274.3 L170.4,273.7 L173.2,273.1 L176.0,272.9 L178.8,273.1 L181.5,273.5 L184.3,274.0 L187.1,274.5 L189.9,275.2 L192.7,274.7 L195.5,273.5 L198.3,272.2 L201.1,270.9 L203.9,269.5 L206.7,268.1 L209.5,267.0 L212.2,265.9 L215.0,264.9 L217.8,263.7 L220.6,262.3 L223.4,259.2 L226.2,255.8 L229.0,252.1 L231.8,247.5 L234.6,242.2 L237.4,236.6 L240.1,230.9 L242.9,225.0 L245.7,219.3 L248.5,215.0 L251.3,211.6 L254.1,208.3 L256.9,205.0 L259.7,202.0 L262.5,198.8 L265.2,195.4 L268.0,191.7 L270.8,187.9 L273.6,183.4 L276.4,179.3 L279.2,177.0 L282.0,174.9 L284.8,173.4 L287.6,172.7 L290.4,172.4 L293.1,172.3 L295.9,172.3 L298.7,172.8 L301.5,173.3 L304.3,173.7 L307.1,173.8 L309.9,173.8 L312.7,173.2 L315.5,172.6 L318.3,172.4 L321.0,172.7 L323.8,173.3 L326.6,174.1 L329.4,175.6 L332.2,176.9 L335.0,178.0 L337.8,179.4 L340.6,180.4 L343.4,181.5 L346.2,182.5 L349.0,183.8 L351.7,184.9 L354.5,185.6 L357.3,186.1 L360.1,185.8 L362.9,185.6 L365.7,184.6 L368.5,183.8 L371.3,182.7 L374.1,181.8 L376.9,180.5 L379.6,180.9 L382.4,180.8 L385.2,181.1 L388.0,181.8 L390.8,182.4 L393.6,183.0 L396.4,183.5 L399.2,183.8 L402.0,184.2 L404.8,184.1 L407.5,184.5 L410.3,184.9 L413.1,185.5 L415.9,187.1 L418.7,188.5 L421.5,190.2 L424.3,191.8 L427.1,193.3 L429.9,194.2 L432.6,194.9 L435.4,193.3 L438.2,191.8 L441.0,189.6 L443.8,187.1 L446.6,184.5 L449.4,181.5 L452.2,178.3 L455.0,175.2 L457.8,172.3 L460.6,169.5 L463.3,166.7 L466.1,163.8 L468.9,160.7 L471.7,158.5 L474.5,156.4 L477.3,154.6 L480.1,153.4 L482.9,152.2 L485.7,151.1 L488.4,150.2 L491.2,149.5 L494.0,149.0 L496.8,148.8 L499.6,148.6 L502.4,148.4 L505.2,149.1 L508.0,150.2 L510.8,151.4 L513.6,152.5 L516.4,153.4 L519.1,154.6 L521.9,156.8 L524.7,158.9 L527.5,160.9 L530.3,162.3 L533.1,163.6 L535.9,164.5 L538.7,165.1 L541.5,165.6 L544.2,165.8 L547.0,166.4 L549.8,167.2 L552.6,167.7 L555.4,168.1 L558.2,168.5 L561.0,168.6 L563.8,168.1 L566.6,167.1 L569.4,165.9 L572.1,164.7 L574.9,163.1 L577.7,160.4 L580.5,159.5 L583.3,157.6 L586.1,156.4 L588.9,155.5 L591.7,154.7 L594.5,154.1 L597.3,149.4 L600.0,143.8 L602.8,138.6 L605.6,133.8 L608.4,129.4 L611.2,125.4 L614.0,122.0 L616.8,118.8 L619.6,116.1 L622.4,113.6 L625.2,111.4 L628.0,109.0 L630.7,106.7 L633.5,104.9 L636.3,101.7 L639.1,98.6 L641.9,95.3 L644.7,91.7 L647.5,88.0 L650.3,84.9 L653.1,86.4 L655.9,88.8 L658.6,91.0 L661.4,92.8 L664.2,94.6 L667.0,96.7 L669.8,96.5 L672.6,95.5 L675.4,95.0 L678.2,94.5 L681.0,94.1 L683.8,93.6 L686.5,93.2 L689.3,92.5 L692.1,90.7 L694.9,89.3 L697.7,88.4 L700.5,88.0 L703.3,86.9 L706.1,85.6 L708.9,84.0 L711.6,81.9 L714.4,80.0 L717.2,78.1 L720.0,76.2 L722.8,73.7 L725.6,73.1 L728.4,72.9 L731.2,72.0 L734.0,71.2 L736.8,70.3 L739.5,69.9 L742.3,73.9 L745.1,78.0 L747.9,83.2 L750.7,87.6 L753.5,91.5 L756.3,95.3 L759.1,99.6 L761.9,103.6 L764.7,107.7 L767.5,112.0 L770.2,116.1 L773.0,119.7 L775.8,123.1 L778.6,126.7 L781.4,130.3 L784.2,134.2 L787.0,137.9 L789.8,141.5 L792.6,145.3 L795.4,148.7 L798.1,148.0 L800.9,147.1 L803.7,146.4 L806.5,146.2 L809.3,145.9 L812.1,145.7 L814.9,145.7 L817.7,145.6 L820.5,145.5 L823.2,145.4 L826.0,145.1 L828.8,144.8 L831.6,144.6 L834.4,144.1 L837.2,143.1 L840.0,141.8 L842.8,140.9 L845.6,140.1 L848.4,139.3 L851.1,138.6 L853.9,137.9 L856.7,137.6 L859.5,137.0 L862.3,135.4 L865.1,133.3 L867.9,131.1 L870.7,128.9 L873.5,127.6 L876.3,126.3 L879.0,125.3 L881.8,125.1 L884.6,125.3 L887.4,125.7 L890.2,126.2 L893.0,126.4" fill="none" stroke="#3f9fdc" stroke-width="1.1"/>
<rect x="2.04" y="406.2" width="1.9" height="9.3" fill="#26a69a" fill-opacity="0.45"/>
<rect x="4.83" y="406.9" width="1.9" height="8.6" fill="#ef5350" fill-opacity="0.45"/>
<rect x="7.62" y="407.6" width="1.9" height="7.9" fill="#26a69a" fill-opacity="0.45"/>
<rect x="10.41" y="406.2" width="1.9" height="9.3" fill="#26a69a" fill-opacity="0.45"/>
<rect x="13.20" y="403.9" width="1.9" height="11.6" fill="#ef5350" fill-opacity="0.45"/>
<rect x="15.99" y="406.2" width="1.9" height="9.3" fill="#26a69a" fill-opacity="0.45"/>
<rect x="18.78" y="406.2" width="1.9" height="9.3" fill="#26a69a" fill-opacity="0.45"/>
<rect x="21.57" y="406.9" width="1.9" height="8.6" fill="#ef5350" fill-opacity="0.45"/>
<rect x="24.36" y="407.6" width="1.9" height="7.9" fill="#ef5350" fill-opacity="0.45"/>
<rect x="27.15" y="407.6" width="1.9" height="7.9" fill="#ef5350" fill-opacity="0.45"/>
<rect x="29.94" y="402.1" width="1.9" height="13.4" fill="#26a69a" fill-opacity="0.45"/>
<rect x="32.73" y="403.2" width="1.9" height="12.3" fill="#26a69a" fill-opacity="0.45"/>
<rect x="35.52" y="404.7" width="1.9" height="10.8" fill="#ef5350" fill-opacity="0.45"/>
<rect x="38.31" y="407.6" width="1.9" height="7.9" fill="#26a69a" fill-opacity="0.45"/>
<rect x="41.10" y="405.4" width="1.9" height="10.1" fill="#26a69a" fill-opacity="0.45"/>
<rect x="43.89" y="401.0" width="1.9" height="14.5" fill="#26a69a" fill-opacity="0.45"/>
<rect x="46.68" y="403.9" width="1.9" height="11.6" fill="#26a69a" fill-opacity="0.45"/>
<rect x="49.47" y="402.4" width="1.9" height="13.1" fill="#26a69a" fill-opacity="0.45"/>
<rect x="52.26" y="399.5" width="1.9" height="16.0" fill="#26a69a" fill-opacity="0.45"/>
<rect x="55.05" y="366.8" width="1.9" height="48.7" fill="#26a69a" fill-opacity="0.45"/>
<rect x="57.84" y="387.9" width="1.9" height="27.6" fill="#ef5350" fill-opacity="0.45"/>
<rect x="60.63" y="387.9" width="1.9" height="27.6" fill="#26a69a" fill-opacity="0.45"/>
<rect x="63.42" y="395.8" width="1.9" height="19.7" fill="#ef5350" fill-opacity="0.45"/>
<rect x="66.21" y="399.5" width="1.9" height="16.0" fill="#ef5350" fill-opacity="0.45"/>
<rect x="69.00" y="398.7" width="1.9" height="16.8" fill="#ef5350" fill-opacity="0.45"/>
<rect x="71.79" y="403.2" width="1.9" height="12.3" fill="#ef5350" fill-opacity="0.45"/>
<rect x="74.58" y="405.4" width="1.9" height="10.1" fill="#ef5350" fill-opacity="0.45"/>
<rect x="77.37" y="405.4" width="1.9" height="10.1" fill="#26a69a" fill-opacity="0.45"/>
<rect x="80.16" y="398.7" width="1.9" height="16.8" fill="#26a69a" fill-opacity="0.45"/>
<rect x="82.95" y="406.9" width="1.9" height="8.6" fill="#ef5350" fill-opacity="0.45"/>
<rect x="85.74" y="403.9" width="1.9" height="11.6" fill="#ef5350" fill-opacity="0.45"/>
<rect x="88.53" y="402.4" width="1.9" height="13.1" fill="#ef5350" fill-opacity="0.45"/>
<rect x="91.32" y="407.6" width="1.9" height="7.9" fill="#ef5350" fill-opacity="0.45"/>
<rect x="94.11" y="406.2" width="1.9" height="9.3" fill="#ef5350" fill-opacity="0.45"/>
<rect x="96.90" y="407.6" width="1.9" height="7.9" fill="#ef5350" fill-opacity="0.45"/>
<rect x="99.69" y="406.9" width="1.9" height="8.6" fill="#26a69a" fill-opacity="0.45"/>
<rect x="102.48" y="406.2" width="1.9" height="9.3" fill="#26a69a" fill-opacity="0.45"/>
<rect x="105.27" y="402.4" width="1.9" height="13.1" fill="#26a69a" fill-opacity="0.45"/>
<rect x="108.06" y="406.9" width="1.9" height="8.6" fill="#ef5350" fill-opacity="0.45"/>
<rect x="110.85" y="403.9" width="1.9" height="11.6" fill="#ef5350" fill-opacity="0.45"/>
<rect x="113.64" y="406.9" width="1.9" height="8.6" fill="#ef5350" fill-opacity="0.45"/>
<rect x="116.43" y="406.2" width="1.9" height="9.3" fill="#ef5350" fill-opacity="0.45"/>
<rect x="119.22" y="404.7" width="1.9" height="10.8" fill="#26a69a" fill-opacity="0.45"/>
<rect x="122.01" y="402.4" width="1.9" height="13.1" fill="#26a69a" fill-opacity="0.45"/>
<rect x="124.80" y="405.4" width="1.9" height="10.1" fill="#26a69a" fill-opacity="0.45"/>
<rect x="127.59" y="407.6" width="1.9" height="7.9" fill="#ef5350" fill-opacity="0.45"/>
<rect x="130.38" y="406.2" width="1.9" height="9.3" fill="#26a69a" fill-opacity="0.45"/>
<rect x="133.17" y="401.7" width="1.9" height="13.8" fill="#26a69a" fill-opacity="0.45"/>
<rect x="135.96" y="401.7" width="1.9" height="13.8" fill="#26a69a" fill-opacity="0.45"/>
<rect x="138.75" y="403.9" width="1.9" height="11.6" fill="#ef5350" fill-opacity="0.45"/>
<rect x="141.54" y="399.5" width="1.9" height="16.0" fill="#ef5350" fill-opacity="0.45"/>
<rect x="144.33" y="376.5" width="1.9" height="39.0" fill="#ef5350" fill-opacity="0.45"/>
<rect x="147.12" y="403.2" width="1.9" height="12.3" fill="#ef5350" fill-opacity="0.45"/>
<rect x="149.91" y="406.2" width="1.9" height="9.3" fill="#ef5350" fill-opacity="0.45"/>
<rect x="152.70" y="404.7" width="1.9" height="10.8" fill="#ef5350" fill-opacity="0.45"/>
<rect x="155.49" y="404.7" width="1.9" height="10.8" fill="#26a69a" fill-opacity="0.45"/>
<rect x="158.28" y="406.2" width="1.9" height="9.3" fill="#ef5350" fill-opacity="0.45"/>
<rect x="161.07" y="406.2" width="1.9" height="9.3" fill="#26a69a" fill-opacity="0.45"/>
<rect x="163.86" y="406.2" width="1.9" height="9.3" fill="#26a69a" fill-opacity="0.45"/>
<rect x="166.65" y="405.4" width="1.9" height="10.1" fill="#26a69a" fill-opacity="0.45"/>
<rect x="169.44" y="406.9" width="1.9" height="8.6" fill="#ef5350" fill-opacity="0.45"/>
<rect x="172.23" y="408.4" width="1.9" height="7.1" fill="#26a69a" fill-opacity="0.45"/>
<rect x="175.02" y="410.6" width="1.9" height="4.9" fill="#ef5350" fill-opacity="0.45"/>
<rect x="177.81" y="404.7" width="1.9" height="10.8" fill="#ef5350" fill-opacity="0.45"/>
<rect x="180.60" y="406.2" width="1.9" height="9.3" fill="#26a69a" fill-opacity="0.45"/>
<rect x="183.39" y="403.9" width="1.9" height="11.6" fill="#26a69a" fill-opacity="0.45"/>
<rect x="186.18" y="407.6" width="1.9" height="7.9" fill="#26a69a" fill-opacity="0.45"/>
<rect x="188.97" y="409.9" width="1.9" height="5.6" fill="#26a69a" fill-opacity="0.45"/>
<rect x="191.76" y="359.4" width="1.9" height="56.1" fill="#26a69a" fill-opacity="0.45"/>
<rect x="194.55" y="392.8" width="1.9" height="22.7" fill="#26a69a" fill-opacity="0.45"/>
<rect x="197.34" y="394.3" width="1.9" height="21.2" fill="#ef5350" fill-opacity="0.45"/>
<rect x="200.13" y="398.7" width="1.9" height="16.8" fill="#ef5350" fill-opacity="0.45"/>
<rect x="202.92" y="401.0" width="1.9" height="14.5" fill="#ef5350" fill-opacity="0.45"/>
<rect x="205.71" y="403.9" width="1.9" height="11.6" fill="#26a69a" fill-opacity="0.45"/>
<rect x="208.50" y="405.4" width="1.9" height="10.1" fill="#ef5350" fill-opacity="0.45"/>
<rect x="211.29" y="406.9" width="1.9" height="8.6" fill="#ef5350" fill-opacity="0.45"/>
<rect x="214.08" y="403.9" width="1.9" height="11.6" fill="#26a69a" fill-opacity="0.45"/>
<rect x="216.87" y="402.4" width="1.9" height="13.1" fill="#26a69a" fill-opacity="0.45"/>
<rect x="219.66" y="396.5" width="1.9" height="19.0" fill="#26a69a" fill-opacity="0.45"/>
<rect x="222.45" y="370.5" width="1.9" height="45.0" fill="#26a69a" fill-opacity="0.45"/>
<rect x="225.24" y="385.4" width="1.9" height="30.1" fill="#26a69a" fill-opacity="0.45"/>
<rect x="228.03" y="384.6" width="1.9" height="30.9" fill="#26a69a" fill-opacity="0.45"/>
<rect x="230.82" y="398.0" width="1.9" height="17.5" fill="#26a69a" fill-opacity="0.45"/>
<rect x="233.61" y="397.3" width="1.9" height="18.2" fill="#26a69a" fill-opacity="0.45"/>
<rect x="236.40" y="398.7" width="1.9" height="16.8" fill="#26a69a" fill-opacity="0.45"/>
<rect x="239.19" y="403.2" width="1.9" height="12.3" fill="#26a69a" fill-opacity="0.45"/>
<rect x="241.98" y="400.2" width="1.9" height="15.3" fill="#26a69a" fill-opacity="0.45"/>
<rect x="244.77" y="402.4" width="1.9" height="13.1" fill="#ef5350" fill-opacity="0.45"/>
<rect x="247.56" y="403.2" width="1.9" height="12.3" fill="#ef5350" fill-opacity="0.45"/>
<rect x="250.35" y="401.7" width="1.9" height="13.8" fill="#ef5350" fill-opacity="0.45"/>
<rect x="253.14" y="395.0" width="1.9" height="20.5" fill="#ef5350" fill-opacity="0.45"/>
<rect x="255.93" y="395.8" width="1.9" height="19.7" fill="#ef5350" fill-opacity="0.45"/>
<rect x="258.72" y="403.9" width="1.9" height="11.6" fill="#26a69a" fill-opacity="0.45"/>
<rect x="261.51" y="400.2" width="1.9" height="15.3" fill="#26a69a" fill-opacity="0.45"/>
<rect x="264.30" y="403.2" width="1.9" height="12.3" fill="#26a69a" fill-opacity="0.45"/>
<rect x="267.09" y="406.2" width="1.9" height="9.3" fill="#26a69a" fill-opacity="0.45"/>
<rect x="269.88" y="403.2" width="1.9" height="12.3" fill="#26a69a" fill-opacity="0.45"/>
<rect x="272.67" y="399.5" width="1.9" height="16.0" fill="#26a69a" fill-opacity="0.45"/>
<rect x="275.46" y="406.2" width="1.9" height="9.3" fill="#26a69a" fill-opacity="0.45"/>
<rect x="278.25" y="403.2" width="1.9" height="12.3" fill="#ef5350" fill-opacity="0.45"/>
<rect x="281.04" y="403.9" width="1.9" height="11.6" fill="#26a69a" fill-opacity="0.45"/>
<rect x="283.83" y="401.0" width="1.9" height="14.5" fill="#ef5350" fill-opacity="0.45"/>
<rect x="286.62" y="401.7" width="1.9" height="13.8" fill="#ef5350" fill-opacity="0.45"/>
<rect x="289.41" y="403.9" width="1.9" height="11.6" fill="#26a69a" fill-opacity="0.45"/>
<rect x="292.20" y="404.7" width="1.9" height="10.8" fill="#26a69a" fill-opacity="0.45"/>
<rect x="294.99" y="405.4" width="1.9" height="10.1" fill="#ef5350" fill-opacity="0.45"/>
<rect x="297.78" y="403.2" width="1.9" height="12.3" fill="#ef5350" fill-opacity="0.45"/>
<rect x="300.57" y="404.7" width="1.9" height="10.8" fill="#26a69a" fill-opacity="0.45"/>
<rect x="303.36" y="405.4" width="1.9" height="10.1" fill="#26a69a" fill-opacity="0.45"/>
<rect x="306.15" y="406.9" width="1.9" height="8.6" fill="#ef5350" fill-opacity="0.45"/>
<rect x="308.94" y="405.4" width="1.9" height="10.1" fill="#ef5350" fill-opacity="0.45"/>
<rect x="311.73" y="399.5" width="1.9" height="16.0" fill="#26a69a" fill-opacity="0.45"/>
<rect x="314.52" y="399.5" width="1.9" height="16.0" fill="#ef5350" fill-opacity="0.45"/>
<rect x="317.31" y="397.3" width="1.9" height="18.2" fill="#ef5350" fill-opacity="0.45"/>
<rect x="320.10" y="396.5" width="1.9" height="19.0" fill="#ef5350" fill-opacity="0.45"/>
<rect x="322.89" y="364.6" width="1.9" height="50.9" fill="#ef5350" fill-opacity="0.45"/>
<rect x="325.68" y="402.4" width="1.9" height="13.1" fill="#26a69a" fill-opacity="0.45"/>
<rect x="328.47" y="409.9" width="1.9" height="5.6" fill="#26a69a" fill-opacity="0.45"/>
<rect x="331.26" y="407.6" width="1.9" height="7.9" fill="#26a69a" fill-opacity="0.45"/>
<rect x="334.05" y="407.6" width="1.9" height="7.9" fill="#ef5350" fill-opacity="0.45"/>
<rect x="336.84" y="405.4" width="1.9" height="10.1" fill="#ef5350" fill-opacity="0.45"/>
<rect x="339.63" y="403.9" width="1.9" height="11.6" fill="#ef5350" fill-opacity="0.45"/>
<rect x="342.42" y="403.2" width="1.9" height="12.3" fill="#26a69a" fill-opacity="0.45"/>
<rect x="345.21" y="406.2" width="1.9" height="9.3" fill="#26a69a" fill-opacity="0.45"/>
<rect x="348.00" y="400.2" width="1.9" height="15.3" fill="#ef5350" fill-opacity="0.45"/>
<rect x="350.79" y="399.5" width="1.9" height="16.0" fill="#26a69a" fill-opacity="0.45"/>
<rect x="353.58" y="404.7" width="1.9" height="10.8" fill="#26a69a" fill-opacity="0.45"/>
<rect x="356.37" y="394.3" width="1.9" height="21.2" fill="#26a69a" fill-opacity="0.45"/>
<rect x="359.16" y="398.7" width="1.9" height="16.8" fill="#26a69a" fill-opacity="0.45"/>
<rect x="361.95" y="386.1" width="1.9" height="29.4" fill="#26a69a" fill-opacity="0.45"/>
<rect x="364.74" y="382.4" width="1.9" height="33.1" fill="#26a69a" fill-opacity="0.45"/>
<rect x="367.53" y="401.0" width="1.9" height="14.5" fill="#ef5350" fill-opacity="0.45"/>
<rect x="370.32" y="401.0" width="1.9" height="14.5" fill="#26a69a" fill-opacity="0.45"/>
<rect x="373.11" y="395.8" width="1.9" height="19.7" fill="#ef5350" fill-opacity="0.45"/>
<rect x="375.90" y="401.0" width="1.9" height="14.5" fill="#ef5350" fill-opacity="0.45"/>
<rect x="378.69" y="389.8" width="1.9" height="25.7" fill="#ef5350" fill-opacity="0.45"/>
<rect x="381.48" y="395.8" width="1.9" height="19.7" fill="#26a69a" fill-opacity="0.45"/>
<rect x="384.27" y="391.3" width="1.9" height="24.2" fill="#ef5350" fill-opacity="0.45"/>
<rect x="387.06" y="394.3" width="1.9" height="21.2" fill="#ef5350" fill-opacity="0.45"/>
<rect x="389.85" y="395.8" width="1.9" height="19.7" fill="#26a69a" fill-opacity="0.45"/>
<rect x="392.64" y="400.2" width="1.9" height="15.3" fill="#26a69a" fill-opacity="0.45"/>
<rect x="395.43" y="400.2" width="1.9" height="15.3" fill="#ef5350" fill-opacity="0.45"/>
<rect x="398.22" y="398.7" width="1.9" height="16.8" fill="#26a69a" fill-opacity="0.45"/>
<rect x="401.01" y="401.7" width="1.9" height="13.8" fill="#26a69a" fill-opacity="0.45"/>
<rect x="403.80" y="404.7" width="1.9" height="10.8" fill="#ef5350" fill-opacity="0.45"/>
<rect x="406.59" y="404.7" width="1.9" height="10.8" fill="#26a69a" fill-opacity="0.45"/>
<rect x="409.38" y="403.9" width="1.9" height="11.6" fill="#26a69a" fill-opacity="0.45"/>
<rect x="412.17" y="401.0" width="1.9" height="14.5" fill="#26a69a" fill-opacity="0.45"/>
<rect x="414.96" y="398.7" width="1.9" height="16.8" fill="#ef5350" fill-opacity="0.45"/>
<rect x="417.75" y="399.5" width="1.9" height="16.0" fill="#ef5350" fill-opacity="0.45"/>
<rect x="420.54" y="382.4" width="1.9" height="33.1" fill="#26a69a" fill-opacity="0.45"/>
<rect x="423.33" y="392.1" width="1.9" height="23.4" fill="#26a69a" fill-opacity="0.45"/>
<rect x="426.12" y="395.8" width="1.9" height="19.7" fill="#26a69a" fill-opacity="0.45"/>
<rect x="428.91" y="398.7" width="1.9" height="16.8" fill="#ef5350" fill-opacity="0.45"/>
<rect x="431.70" y="395.8" width="1.9" height="19.7" fill="#26a69a" fill-opacity="0.45"/>
<rect x="434.49" y="403.2" width="1.9" height="12.3" fill="#26a69a" fill-opacity="0.45"/>
<rect x="437.28" y="392.1" width="1.9" height="23.4" fill="#26a69a" fill-opacity="0.45"/>
<rect x="440.07" y="392.1" width="1.9" height="23.4" fill="#26a69a" fill-opacity="0.45"/>
<rect x="442.86" y="398.7" width="1.9" height="16.8" fill="#ef5350" fill-opacity="0.45"/>
<rect x="445.65" y="401.7" width="1.9" height="13.8" fill="#26a69a" fill-opacity="0.45"/>
<rect x="448.44" y="398.0" width="1.9" height="17.5" fill="#26a69a" fill-opacity="0.45"/>
<rect x="451.23" y="390.6" width="1.9" height="24.9" fill="#26a69a" fill-opacity="0.45"/>
<rect x="454.02" y="389.8" width="1.9" height="25.7" fill="#ef5350" fill-opacity="0.45"/>
<rect x="456.81" y="396.5" width="1.9" height="19.0" fill="#ef5350" fill-opacity="0.45"/>
<rect x="459.60" y="398.7" width="1.9" height="16.8" fill="#26a69a" fill-opacity="0.45"/>
<rect x="462.39" y="401.0" width="1.9" height="14.5" fill="#ef5350" fill-opacity="0.45"/>
<rect x="465.18" y="402.4" width="1.9" height="13.1" fill="#26a69a" fill-opacity="0.45"/>
<rect x="467.97" y="389.4" width="1.9" height="26.1" fill="#26a69a" fill-opacity="0.45"/>
<rect x="470.76" y="393.2" width="1.9" height="22.3" fill="#ef5350" fill-opacity="0.45"/>
<rect x="473.55" y="397.3" width="1.9" height="18.2" fill="#26a69a" fill-opacity="0.45"/>
<rect x="476.34" y="399.5" width="1.9" height="16.0" fill="#ef5350" fill-opacity="0.45"/>
<rect x="479.13" y="401.7" width="1.9" height="13.8" fill="#ef5350" fill-opacity="0.45"/>
<rect x="481.92" y="401.0" width="1.9" height="14.5" fill="#26a69a" fill-opacity="0.45"/>
<rect x="484.71" y="402.4" width="1.9" height="13.1" fill="#ef5350" fill-opacity="0.45"/>
<rect x="487.50" y="398.7" width="1.9" height="16.8" fill="#26a69a" fill-opacity="0.45"/>
<rect x="490.29" y="395.0" width="1.9" height="20.5" fill="#26a69a" fill-opacity="0.45"/>
<rect x="493.08" y="366.8" width="1.9" height="48.7" fill="#26a69a" fill-opacity="0.45"/>
<rect x="495.87" y="401.7" width="1.9" height="13.8" fill="#26a69a" fill-opacity="0.45"/>
<rect x="498.66" y="398.7" width="1.9" height="16.8" fill="#ef5350" fill-opacity="0.45"/>
<rect x="501.45" y="398.7" width="1.9" height="16.8" fill="#ef5350" fill-opacity="0.45"/>
<rect x="504.24" y="395.8" width="1.9" height="19.7" fill="#ef5350" fill-opacity="0.45"/>
<rect x="507.03" y="406.2" width="1.9" height="9.3" fill="#26a69a" fill-opacity="0.45"/>
<rect x="509.82" y="394.3" width="1.9" height="21.2" fill="#26a69a" fill-opacity="0.45"/>
<rect x="512.61" y="396.5" width="1.9" height="19.0" fill="#ef5350" fill-opacity="0.45"/>
<rect x="515.40" y="402.4" width="1.9" height="13.1" fill="#26a69a" fill-opacity="0.45"/>
<rect x="518.19" y="398.7" width="1.9" height="16.8" fill="#ef5350" fill-opacity="0.45"/>
<rect x="520.98" y="395.8" width="1.9" height="19.7" fill="#ef5350" fill-opacity="0.45"/>
<rect x="523.77" y="395.8" width="1.9" height="19.7" fill="#26a69a" fill-opacity="0.45"/>
<rect x="526.56" y="395.8" width="1.9" height="19.7" fill="#ef5350" fill-opacity="0.45"/>
<rect x="529.35" y="386.1" width="1.9" height="29.4" fill="#26a69a" fill-opacity="0.45"/>
<rect x="532.14" y="396.5" width="1.9" height="19.0" fill="#ef5350" fill-opacity="0.45"/>
<rect x="534.93" y="401.0" width="1.9" height="14.5" fill="#26a69a" fill-opacity="0.45"/>
<rect x="537.72" y="402.4" width="1.9" height="13.1" fill="#26a69a" fill-opacity="0.45"/>
<rect x="540.51" y="400.2" width="1.9" height="15.3" fill="#26a69a" fill-opacity="0.45"/>
<rect x="543.30" y="398.0" width="1.9" height="17.5" fill="#ef5350" fill-opacity="0.45"/>
<rect x="546.09" y="400.2" width="1.9" height="15.3" fill="#26a69a" fill-opacity="0.45"/>
<rect x="548.88" y="402.4" width="1.9" height="13.1" fill="#ef5350" fill-opacity="0.45"/>
<rect x="551.67" y="403.2" width="1.9" height="12.3" fill="#26a69a" fill-opacity="0.45"/>
<rect x="554.46" y="397.3" width="1.9" height="18.2" fill="#ef5350" fill-opacity="0.45"/>
<rect x="557.25" y="403.2" width="1.9" height="12.3" fill="#26a69a" fill-opacity="0.45"/>
<rect x="560.04" y="403.9" width="1.9" height="11.6" fill="#26a69a" fill-opacity="0.45"/>
<rect x="562.83" y="401.0" width="1.9" height="14.5" fill="#26a69a" fill-opacity="0.45"/>
<rect x="565.62" y="403.2" width="1.9" height="12.3" fill="#26a69a" fill-opacity="0.45"/>
<rect x="568.41" y="400.2" width="1.9" height="15.3" fill="#26a69a" fill-opacity="0.45"/>
<rect x="571.20" y="398.7" width="1.9" height="16.8" fill="#ef5350" fill-opacity="0.45"/>
<rect x="573.99" y="401.7" width="1.9" height="13.8" fill="#26a69a" fill-opacity="0.45"/>
<rect x="576.78" y="401.7" width="1.9" height="13.8" fill="#26a69a" fill-opacity="0.45"/>
<rect x="579.57" y="389.1" width="1.9" height="26.4" fill="#ef5350" fill-opacity="0.45"/>
<rect x="582.36" y="397.3" width="1.9" height="18.2" fill="#ef5350" fill-opacity="0.45"/>
<rect x="585.15" y="392.1" width="1.9" height="23.4" fill="#26a69a" fill-opacity="0.45"/>
<rect x="587.94" y="403.9" width="1.9" height="11.6" fill="#ef5350" fill-opacity="0.45"/>
<rect x="590.73" y="398.0" width="1.9" height="17.5" fill="#26a69a" fill-opacity="0.45"/>
<rect x="593.52" y="394.3" width="1.9" height="21.2" fill="#ef5350" fill-opacity="0.45"/>
<rect x="596.31" y="330.3" width="1.9" height="85.2" fill="#26a69a" fill-opacity="0.45"/>
<rect x="599.10" y="347.4" width="1.9" height="68.1" fill="#26a69a" fill-opacity="0.45"/>
<rect x="601.89" y="378.7" width="1.9" height="36.8" fill="#ef5350" fill-opacity="0.45"/>
<rect x="604.68" y="392.1" width="1.9" height="23.4" fill="#ef5350" fill-opacity="0.45"/>
<rect x="607.47" y="392.1" width="1.9" height="23.4" fill="#ef5350" fill-opacity="0.45"/>
<rect x="610.26" y="395.8" width="1.9" height="19.7" fill="#ef5350" fill-opacity="0.45"/>
<rect x="613.05" y="395.8" width="1.9" height="19.7" fill="#ef5350" fill-opacity="0.45"/>
<rect x="615.84" y="395.8" width="1.9" height="19.7" fill="#ef5350" fill-opacity="0.45"/>
<rect x="618.63" y="392.8" width="1.9" height="22.7" fill="#26a69a" fill-opacity="0.45"/>
<rect x="621.42" y="395.8" width="1.9" height="19.7" fill="#ef5350" fill-opacity="0.45"/>
<rect x="624.21" y="401.0" width="1.9" height="14.5" fill="#ef5350" fill-opacity="0.45"/>
<rect x="627.00" y="389.8" width="1.9" height="25.7" fill="#26a69a" fill-opacity="0.45"/>
<rect x="629.79" y="395.8" width="1.9" height="19.7" fill="#ef5350" fill-opacity="0.45"/>
<rect x="632.58" y="390.6" width="1.9" height="24.9" fill="#ef5350" fill-opacity="0.45"/>
<rect x="635.37" y="403.9" width="1.9" height="11.6" fill="#ef5350" fill-opacity="0.45"/>
<rect x="638.16" y="400.2" width="1.9" height="15.3" fill="#26a69a" fill-opacity="0.45"/>
<rect x="640.95" y="400.2" width="1.9" height="15.3" fill="#26a69a" fill-opacity="0.45"/>
<rect x="643.74" y="398.7" width="1.9" height="16.8" fill="#ef5350" fill-opacity="0.45"/>
<rect x="646.53" y="403.2" width="1.9" height="12.3" fill="#ef5350" fill-opacity="0.45"/>
<rect x="649.32" y="394.3" width="1.9" height="21.2" fill="#ef5350" fill-opacity="0.45"/>
<rect x="652.11" y="400.2" width="1.9" height="15.3" fill="#ef5350" fill-opacity="0.45"/>
<rect x="654.90" y="401.0" width="1.9" height="14.5" fill="#26a69a" fill-opacity="0.45"/>
<rect x="657.69" y="402.4" width="1.9" height="13.1" fill="#ef5350" fill-opacity="0.45"/>
<rect x="660.48" y="398.0" width="1.9" height="17.5" fill="#ef5350" fill-opacity="0.45"/>
<rect x="663.27" y="398.0" width="1.9" height="17.5" fill="#ef5350" fill-opacity="0.45"/>
<rect x="666.06" y="370.5" width="1.9" height="45.0" fill="#ef5350" fill-opacity="0.45"/>
<rect x="668.85" y="353.3" width="1.9" height="62.2" fill="#ef5350" fill-opacity="0.45"/>
<rect x="671.64" y="373.5" width="1.9" height="42.0" fill="#26a69a" fill-opacity="0.45"/>
<rect x="674.43" y="383.9" width="1.9" height="31.6" fill="#ef5350" fill-opacity="0.45"/>
<rect x="677.22" y="397.3" width="1.9" height="18.2" fill="#ef5350" fill-opacity="0.45"/>
<rect x="680.01" y="397.3" width="1.9" height="18.2" fill="#ef5350" fill-opacity="0.45"/>
<rect x="682.80" y="391.3" width="1.9" height="24.2" fill="#26a69a" fill-opacity="0.45"/>
<rect x="685.59" y="392.1" width="1.9" height="23.4" fill="#26a69a" fill-opacity="0.45"/>
<rect x="688.38" y="392.1" width="1.9" height="23.4" fill="#ef5350" fill-opacity="0.45"/>
<rect x="691.17" y="394.3" width="1.9" height="21.2" fill="#26a69a" fill-opacity="0.45"/>
<rect x="693.96" y="375.7" width="1.9" height="39.8" fill="#ef5350" fill-opacity="0.45"/>
<rect x="696.75" y="383.9" width="1.9" height="31.6" fill="#ef5350" fill-opacity="0.45"/>
<rect x="699.54" y="396.5" width="1.9" height="19.0" fill="#ef5350" fill-opacity="0.45"/>
<rect x="702.33" y="398.7" width="1.9" height="16.8" fill="#26a69a" fill-opacity="0.45"/>
<rect x="705.12" y="401.0" width="1.9" height="14.5" fill="#26a69a" fill-opacity="0.45"/>
<rect x="707.91" y="401.0" width="1.9" height="14.5" fill="#ef5350" fill-opacity="0.45"/>
<rect x="710.70" y="403.2" width="1.9" height="12.3" fill="#26a69a" fill-opacity="0.45"/>
<rect x="713.49" y="401.7" width="1.9" height="13.8" fill="#ef5350" fill-opacity="0.45"/>
<rect x="716.28" y="403.9" width="1.9" height="11.6" fill="#26a69a" fill-opacity="0.45"/>
<rect x="719.07" y="400.2" width="1.9" height="15.3" fill="#26a69a" fill-opacity="0.45"/>
<rect x="721.86" y="403.2" width="1.9" height="12.3" fill="#ef5350" fill-opacity="0.45"/>
<rect x="724.65" y="403.2" width="1.9" height="12.3" fill="#ef5350" fill-opacity="0.45"/>
<rect x="727.44" y="400.2" width="1.9" height="15.3" fill="#26a69a" fill-opacity="0.45"/>
<rect x="730.23" y="399.5" width="1.9" height="16.0" fill="#26a69a" fill-opacity="0.45"/>
<rect x="733.02" y="401.0" width="1.9" height="14.5" fill="#26a69a" fill-opacity="0.45"/>
<rect x="735.81" y="391.3" width="1.9" height="24.2" fill="#26a69a" fill-opacity="0.45"/>
<rect x="738.60" y="371.3" width="1.9" height="44.2" fill="#ef5350" fill-opacity="0.45"/>
<rect x="741.39" y="311.0" width="1.9" height="104.5" fill="#ef5350" fill-opacity="0.45"/>
<rect x="744.18" y="380.9" width="1.9" height="34.6" fill="#ef5350" fill-opacity="0.45"/>
<rect x="746.97" y="382.4" width="1.9" height="33.1" fill="#ef5350" fill-opacity="0.45"/>
<rect x="749.76" y="376.5" width="1.9" height="39.0" fill="#26a69a" fill-opacity="0.45"/>
<rect x="752.55" y="386.1" width="1.9" height="29.4" fill="#ef5350" fill-opacity="0.45"/>
<rect x="755.34" y="389.8" width="1.9" height="25.7" fill="#26a69a" fill-opacity="0.45"/>
<rect x="758.13" y="396.5" width="1.9" height="19.0" fill="#26a69a" fill-opacity="0.45"/>
<rect x="760.92" y="397.3" width="1.9" height="18.2" fill="#ef5350" fill-opacity="0.45"/>
<rect x="763.71" y="401.7" width="1.9" height="13.8" fill="#26a69a" fill-opacity="0.45"/>
<rect x="766.50" y="400.2" width="1.9" height="15.3" fill="#ef5350" fill-opacity="0.45"/>
<rect x="769.29" y="386.1" width="1.9" height="29.4" fill="#26a69a" fill-opacity="0.45"/>
<rect x="772.08" y="398.7" width="1.9" height="16.8" fill="#26a69a" fill-opacity="0.45"/>
<rect x="774.87" y="400.2" width="1.9" height="15.3" fill="#26a69a" fill-opacity="0.45"/>
<rect x="777.66" y="399.5" width="1.9" height="16.0" fill="#ef5350" fill-opacity="0.45"/>
<rect x="780.45" y="400.2" width="1.9" height="15.3" fill="#ef5350" fill-opacity="0.45"/>
<rect x="783.24" y="402.4" width="1.9" height="13.1" fill="#ef5350" fill-opacity="0.45"/>
<rect x="786.03" y="403.2" width="1.9" height="12.3" fill="#26a69a" fill-opacity="0.45"/>
<rect x="788.82" y="398.7" width="1.9" height="16.8" fill="#26a69a" fill-opacity="0.45"/>
<rect x="791.61" y="404.7" width="1.9" height="10.8" fill="#ef5350" fill-opacity="0.45"/>
<rect x="794.40" y="404.7" width="1.9" height="10.8" fill="#ef5350" fill-opacity="0.45"/>
<rect x="797.19" y="398.0" width="1.9" height="17.5" fill="#26a69a" fill-opacity="0.45"/>
<rect x="799.98" y="399.5" width="1.9" height="16.0" fill="#26a69a" fill-opacity="0.45"/>
<rect x="802.77" y="399.5" width="1.9" height="16.0" fill="#ef5350" fill-opacity="0.45"/>
<rect x="805.56" y="398.0" width="1.9" height="17.5" fill="#ef5350" fill-opacity="0.45"/>
<rect x="808.35" y="387.6" width="1.9" height="27.9" fill="#ef5350" fill-opacity="0.45"/>
<rect x="811.14" y="395.8" width="1.9" height="19.7" fill="#ef5350" fill-opacity="0.45"/>
<rect x="813.93" y="399.5" width="1.9" height="16.0" fill="#26a69a" fill-opacity="0.45"/>
<rect x="816.72" y="398.7" width="1.9" height="16.8" fill="#26a69a" fill-opacity="0.45"/>
<rect x="819.51" y="402.4" width="1.9" height="13.1" fill="#ef5350" fill-opacity="0.45"/>
<rect x="822.30" y="403.2" width="1.9" height="12.3" fill="#26a69a" fill-opacity="0.45"/>
<rect x="825.09" y="398.0" width="1.9" height="17.5" fill="#ef5350" fill-opacity="0.45"/>
<rect x="827.88" y="397.3" width="1.9" height="18.2" fill="#26a69a" fill-opacity="0.45"/>
<rect x="830.67" y="398.0" width="1.9" height="17.5" fill="#26a69a" fill-opacity="0.45"/>
<rect x="833.46" y="399.5" width="1.9" height="16.0" fill="#ef5350" fill-opacity="0.45"/>
<rect x="836.25" y="403.9" width="1.9" height="11.6" fill="#26a69a" fill-opacity="0.45"/>
<rect x="839.04" y="397.3" width="1.9" height="18.2" fill="#26a69a" fill-opacity="0.45"/>
<rect x="841.83" y="397.3" width="1.9" height="18.2" fill="#ef5350" fill-opacity="0.45"/>
<rect x="844.62" y="363.9" width="1.9" height="51.6" fill="#ef5350" fill-opacity="0.45"/>
<rect x="847.41" y="401.7" width="1.9" height="13.8" fill="#ef5350" fill-opacity="0.45"/>
<rect x="850.20" y="405.4" width="1.9" height="10.1" fill="#26a69a" fill-opacity="0.45"/>
<rect x="852.99" y="401.7" width="1.9" height="13.8" fill="#ef5350" fill-opacity="0.45"/>
<rect x="855.78" y="402.4" width="1.9" height="13.1" fill="#ef5350" fill-opacity="0.45"/>
<rect x="858.57" y="403.9" width="1.9" height="11.6" fill="#26a69a" fill-opacity="0.45"/>
<rect x="861.36" y="398.7" width="1.9" height="16.8" fill="#26a69a" fill-opacity="0.45"/>
<rect x="864.15" y="400.2" width="1.9" height="15.3" fill="#26a69a" fill-opacity="0.45"/>
<rect x="866.94" y="398.0" width="1.9" height="17.5" fill="#ef5350" fill-opacity="0.45"/>
<rect x="869.73" y="402.4" width="1.9" height="13.1" fill="#26a69a" fill-opacity="0.45"/>
<rect x="872.52" y="400.2" width="1.9" height="15.3" fill="#ef5350" fill-opacity="0.45"/>
<rect x="875.31" y="401.7" width="1.9" height="13.8" fill="#ef5350" fill-opacity="0.45"/>
<rect x="878.10" y="401.0" width="1.9" height="14.5" fill="#ef5350" fill-opacity="0.45"/>
<rect x="880.89" y="394.3" width="1.9" height="21.2" fill="#ef5350" fill-opacity="0.45"/>
<rect x="883.68" y="403.9" width="1.9" height="11.6" fill="#ef5350" fill-opacity="0.45"/>
<rect x="886.47" y="395.8" width="1.9" height="19.7" fill="#ef5350" fill-opacity="0.45"/>
<rect x="889.26" y="405.4" width="1.9" height="10.1" fill="#ef5350" fill-opacity="0.45"/>
<rect x="892.05" y="394.3" width="1.9" height="21.2" fill="#26a69a" fill-opacity="0.45"/>
<path d="M3.0,320.2 L5.8,319.3 L8.6,317.5 L11.4,316.5 L14.1,316.1 L16.9,315.9 L19.7,316.2 L22.5,316.2 L25.3,316.2 L28.1,316.7 L30.9,316.7 L33.7,315.0 L36.5,313.2 L39.3,311.4 L42.0,308.8 L44.8,305.9 L47.6,304.3 L50.4,303.3 L53.2,303.1 L56.0,295.5 L58.8,288.6 L61.6,281.8 L64.4,274.8 L67.2,267.2 L70.0,268.3 L72.7,269.8 L75.5,271.3 L78.3,272.2 L81.1,272.9 L83.9,272.8 L86.7,273.0 L89.5,274.0 L92.3,275.4 L95.1,277.4 L97.9,279.3 L100.6,280.1 L103.4,279.8 L106.2,279.3 L109.0,278.3 L111.8,278.8 L114.6,280.3 L117.4,282.0 L120.2,282.7 L123.0,283.2 L125.8,281.4 L128.5,278.9 L131.3,275.7 L134.1,272.5 L136.9,268.9 L139.7,266.9 L142.5,265.9 L145.3,266.5 L148.1,268.6 L150.9,271.4 L153.6,273.3 L156.4,274.8 L159.2,275.5 L162.0,275.7 L164.8,275.7 L167.6,275.7 L170.4,275.1 L173.2,274.5 L176.0,274.7 L178.8,276.2 L181.5,278.0 L184.3,280.0 L187.1,281.7 L189.9,282.1 L192.7,275.7 L195.5,267.1 L198.3,259.0 L201.1,251.9 L203.9,245.4 L206.7,244.9 L209.5,247.0 L212.2,249.3 L215.0,251.3 L217.8,252.6 L220.6,252.5 L223.4,244.7 L226.2,235.1 L229.0,223.7 L231.8,209.8 L234.6,195.7 L237.4,187.7 L240.1,180.1 L242.9,173.3 L245.7,169.3 L248.5,166.7 L251.3,166.9 L254.1,168.5 L256.9,171.8 L259.7,176.2 L262.5,180.1 L265.2,182.2 L268.0,183.1 L270.8,182.7 L273.6,178.4 L276.4,174.7 L279.2,171.4 L282.0,167.7 L284.8,165.9 L287.6,167.0 L290.4,168.2 L293.1,168.9 L295.9,170.0 L298.7,170.8 L301.5,171.3 L304.3,171.7 L307.1,172.8 L309.9,174.2 L312.7,173.3 L315.5,173.6 L318.3,175.2 L321.0,177.7 L323.8,181.4 L326.6,186.5 L329.4,190.4 L332.2,192.4 L335.0,192.7 L337.8,191.9 L340.6,191.1 L343.4,190.6 L346.2,190.7 L349.0,192.1 L351.7,192.0 L354.5,191.4 L357.3,190.1 L360.1,185.1 L362.9,179.7 L365.7,173.1 L368.5,166.4 L371.3,159.6 L374.1,158.8 L376.9,157.6 L379.6,166.7 L382.4,174.3 L385.2,184.1 L388.0,192.3 L390.8,200.1 L393.6,200.1 L396.4,201.9 L399.2,201.5 L402.0,200.3 L404.8,199.0 L407.5,198.1 L410.3,197.2 L413.1,196.6 L415.9,197.0 L418.7,197.3 L421.5,196.1 L424.3,193.6 L427.1,191.0 L429.9,187.1 L432.6,183.1 L435.4,179.1 L438.2,174.4 L441.0,169.1 L443.8,163.8 L446.6,158.5 L449.4,152.5 L452.2,147.8 L455.0,144.1 L457.8,141.3 L460.6,139.0 L463.3,139.0 L466.1,139.2 L468.9,138.6 L471.7,141.7 L474.5,144.9 L477.3,147.8 L480.1,152.2 L482.9,157.0 L485.7,157.4 L488.4,158.6 L491.2,158.6 L494.0,156.8 L496.8,155.6 L499.6,154.0 L502.4,151.0 L505.2,151.0 L508.0,152.6 L510.8,154.5 L513.6,156.7 L516.4,159.0 L519.1,160.9 L521.9,165.7 L524.7,168.6 L527.5,175.4 L530.3,180.6 L533.1,184.0 L535.9,183.0 L538.7,181.7 L541.5,176.2 L544.2,172.6 L547.0,169.7 L549.8,167.5 L552.6,165.9 L555.4,163.9 L558.2,161.8 L561.0,159.9 L563.8,156.3 L566.6,152.4 L569.4,148.2 L572.1,143.8 L574.9,138.8 L577.7,134.7 L580.5,137.9 L583.3,142.3 L586.1,147.3 L588.9,153.5 L591.7,160.3 L594.5,160.3 L597.3,143.2 L600.0,122.2 L602.8,102.2 L605.6,83.7 L608.4,67.0 L611.2,67.9 L614.0,74.7 L616.8,80.9 L619.6,85.6 L622.4,89.3 L625.2,92.1 L628.0,91.9 L630.7,90.3 L633.5,90.1 L636.3,90.3 L639.1,91.2 L641.9,92.4 L644.7,93.3 L647.5,92.5 L650.3,92.9 L653.1,94.3 L655.9,96.4 L658.6,99.4 L661.4,103.1 L664.2,106.0 L667.0,109.0 L669.8,105.4 L672.6,98.9 L675.4,94.2 L678.2,88.8 L681.0,81.8 L683.8,80.4 L686.5,81.2 L689.3,80.2 L692.1,75.2 L694.9,71.9 L697.7,71.5 L700.5,72.6 L703.3,70.2 L706.1,72.4 L708.9,73.1 L711.6,70.4 L714.4,67.2 L717.2,67.9 L720.0,68.3 L722.8,68.1 L725.6,70.1 L728.4,70.6 L731.2,69.7 L734.0,68.8 L736.8,67.9 L739.5,67.7 L742.3,85.3 L745.1,104.1 L747.9,123.4 L750.7,141.2 L753.5,158.0 L756.3,158.0 L759.1,156.5 L761.9,154.0 L764.7,153.5 L767.5,152.3 L770.2,150.6 L773.0,148.3 L775.8,146.1 L778.6,144.3 L781.4,143.0 L784.2,142.8 L787.0,142.5 L789.8,142.5 L792.6,142.2 L795.4,141.4 L798.1,140.7 L800.9,141.2 L803.7,142.9 L806.5,144.7 L809.3,146.7 L812.1,148.9 L814.9,150.7 L817.7,150.9 L820.5,150.9 L823.2,150.4 L826.0,147.9 L828.8,144.7 L831.6,141.9 L834.4,138.6 L837.2,134.1 L840.0,129.9 L842.8,127.1 L845.6,124.6 L848.4,123.2 L851.1,123.4 L853.9,125.1 L856.7,128.1 L859.5,130.5 L862.3,128.8 L865.1,125.4 L867.9,121.5 L870.7,115.8 L873.5,113.2 L876.3,114.7 L879.0,118.4 L881.8,123.9 L884.6,130.2 L887.4,134.5 L890.2,138.0 L893.0,138.3" fill="none" stroke="#5b7d6f" stroke-width="1"/>
<line x1="2.99" y1="315.5" x2="2.99" y2="320.2" stroke="#089981" stroke-width="1"/>
<rect x="1.79" y="317.0" width="2.4" height="0.9" fill="#089981"/>
<line x1="5.78" y1="314.7" x2="5.78" y2="319.5" stroke="#f23645" stroke-width="1"/>
<rect x="4.58" y="315.4" width="2.4" height="2.1" fill="#f23645"/>
<line x1="8.57" y1="313.2" x2="8.57" y2="319.5" stroke="#089981" stroke-width="1"/>
<rect x="7.37" y="314.4" width="2.4" height="2.8" fill="#089981"/>
<line x1="11.36" y1="314.2" x2="11.36" y2="319.1" stroke="#089981" stroke-width="1"/>
<rect x="10.16" y="316.0" width="2.4" height="1.0" fill="#089981"/>
<line x1="14.15" y1="312.8" x2="14.15" y2="317.1" stroke="#f23645" stroke-width="1"/>
<rect x="12.95" y="315.0" width="2.4" height="1.8" fill="#f23645"/>
<line x1="16.94" y1="313.4" x2="16.94" y2="316.3" stroke="#089981" stroke-width="1"/>
<rect x="15.74" y="314.8" width="2.4" height="1.0" fill="#089981"/>
<line x1="19.73" y1="314.1" x2="19.73" y2="319.4" stroke="#089981" stroke-width="1"/>
<rect x="18.53" y="315.9" width="2.4" height="1.1" fill="#089981"/>
<line x1="22.52" y1="316.6" x2="22.52" y2="318.9" stroke="#f23645" stroke-width="1"/>
<rect x="21.32" y="317.1" width="2.4" height="1.0" fill="#f23645"/>
<line x1="25.31" y1="315.4" x2="25.31" y2="318.4" stroke="#f23645" stroke-width="1"/>
<rect x="24.11" y="316.0" width="2.4" height="1.6" fill="#f23645"/>
<line x1="28.10" y1="315.5" x2="28.10" y2="319.7" stroke="#f23645" stroke-width="1"/>
<rect x="26.90" y="316.2" width="2.4" height="1.3" fill="#f23645"/>
<line x1="30.89" y1="315.6" x2="30.89" y2="319.9" stroke="#089981" stroke-width="1"/>
<rect x="29.69" y="316.0" width="2.4" height="2.3" fill="#089981"/>
<line x1="33.68" y1="305.8" x2="33.68" y2="317.7" stroke="#089981" stroke-width="1"/>
<rect x="32.48" y="308.5" width="2.4" height="8.2" fill="#089981"/>
<line x1="36.47" y1="305.4" x2="36.47" y2="311.3" stroke="#f23645" stroke-width="1"/>
<rect x="35.27" y="307.8" width="2.4" height="1.0" fill="#f23645"/>
<line x1="39.26" y1="304.7" x2="39.26" y2="309.1" stroke="#089981" stroke-width="1"/>
<rect x="38.06" y="306.1" width="2.4" height="1.0" fill="#089981"/>
<line x1="42.05" y1="304.1" x2="42.05" y2="309.8" stroke="#089981" stroke-width="1"/>
<rect x="40.85" y="304.8" width="2.4" height="3.0" fill="#089981"/>
<line x1="44.84" y1="299.7" x2="44.84" y2="306.3" stroke="#089981" stroke-width="1"/>
<rect x="43.64" y="301.4" width="2.4" height="4.2" fill="#089981"/>
<line x1="47.63" y1="299.5" x2="47.63" y2="303.7" stroke="#089981" stroke-width="1"/>
<rect x="46.43" y="300.5" width="2.4" height="0.9" fill="#089981"/>
<line x1="50.42" y1="299.1" x2="50.42" y2="303.8" stroke="#089981" stroke-width="1"/>
<rect x="49.22" y="299.4" width="2.4" height="3.1" fill="#089981"/>
<line x1="53.21" y1="300.8" x2="53.21" y2="306.4" stroke="#089981" stroke-width="1"/>
<rect x="52.01" y="301.5" width="2.4" height="4.5" fill="#089981"/>
<line x1="56.00" y1="265.0" x2="56.00" y2="307.4" stroke="#089981" stroke-width="1"/>
<rect x="54.80" y="267.0" width="2.4" height="39.0" fill="#089981"/>
<line x1="58.79" y1="264.7" x2="58.79" y2="268.5" stroke="#f23645" stroke-width="1"/>
<rect x="57.59" y="265.8" width="2.4" height="0.9" fill="#f23645"/>
<line x1="61.58" y1="263.7" x2="61.58" y2="268.7" stroke="#089981" stroke-width="1"/>
<rect x="60.38" y="266.5" width="2.4" height="1.3" fill="#089981"/>
<line x1="64.37" y1="262.9" x2="64.37" y2="270.4" stroke="#f23645" stroke-width="1"/>
<rect x="63.17" y="265.3" width="2.4" height="2.5" fill="#f23645"/>
<line x1="67.16" y1="265.8" x2="67.16" y2="271.4" stroke="#f23645" stroke-width="1"/>
<rect x="65.96" y="267.9" width="2.4" height="1.0" fill="#f23645"/>
<line x1="69.95" y1="265.8" x2="69.95" y2="272.9" stroke="#f23645" stroke-width="1"/>
<rect x="68.75" y="268.3" width="2.4" height="4.2" fill="#f23645"/>
<line x1="72.74" y1="271.0" x2="72.74" y2="274.8" stroke="#f23645" stroke-width="1"/>
<rect x="71.54" y="272.0" width="2.4" height="2.2" fill="#f23645"/>
<line x1="75.53" y1="273.6" x2="75.53" y2="277.1" stroke="#f23645" stroke-width="1"/>
<rect x="74.33" y="274.0" width="2.4" height="1.1" fill="#f23645"/>
<line x1="78.32" y1="271.2" x2="78.32" y2="274.6" stroke="#089981" stroke-width="1"/>
<rect x="77.12" y="272.4" width="2.4" height="0.9" fill="#089981"/>
<line x1="81.11" y1="269.0" x2="81.11" y2="273.1" stroke="#089981" stroke-width="1"/>
<rect x="79.91" y="270.6" width="2.4" height="1.0" fill="#089981"/>
<line x1="83.90" y1="268.9" x2="83.90" y2="272.6" stroke="#f23645" stroke-width="1"/>
<rect x="82.70" y="271.1" width="2.4" height="0.9" fill="#f23645"/>
<line x1="86.69" y1="270.0" x2="86.69" y2="276.2" stroke="#f23645" stroke-width="1"/>
<rect x="85.49" y="271.2" width="2.4" height="3.8" fill="#f23645"/>
<line x1="89.48" y1="271.7" x2="89.48" y2="281.4" stroke="#f23645" stroke-width="1"/>
<rect x="88.28" y="274.3" width="2.4" height="4.7" fill="#f23645"/>
<line x1="92.27" y1="276.8" x2="92.27" y2="280.5" stroke="#f23645" stroke-width="1"/>
<rect x="91.07" y="278.1" width="2.4" height="1.6" fill="#f23645"/>
<line x1="95.06" y1="278.5" x2="95.06" y2="283.1" stroke="#f23645" stroke-width="1"/>
<rect x="93.86" y="279.5" width="2.4" height="2.0" fill="#f23645"/>
<line x1="97.85" y1="280.2" x2="97.85" y2="284.4" stroke="#f23645" stroke-width="1"/>
<rect x="96.65" y="281.5" width="2.4" height="1.0" fill="#f23645"/>
<line x1="100.64" y1="276.8" x2="100.64" y2="282.2" stroke="#089981" stroke-width="1"/>
<rect x="99.44" y="279.0" width="2.4" height="2.7" fill="#089981"/>
<line x1="103.43" y1="274.6" x2="103.43" y2="281.4" stroke="#089981" stroke-width="1"/>
<rect x="102.23" y="277.3" width="2.4" height="2.3" fill="#089981"/>
<line x1="106.22" y1="275.2" x2="106.22" y2="280.2" stroke="#089981" stroke-width="1"/>
<rect x="105.02" y="277.2" width="2.4" height="0.9" fill="#089981"/>
<line x1="109.01" y1="275.8" x2="109.01" y2="280.3" stroke="#f23645" stroke-width="1"/>
<rect x="107.81" y="276.5" width="2.4" height="1.1" fill="#f23645"/>
<line x1="111.80" y1="276.2" x2="111.80" y2="285.8" stroke="#f23645" stroke-width="1"/>
<rect x="110.60" y="277.6" width="2.4" height="6.4" fill="#f23645"/>
<line x1="114.59" y1="280.1" x2="114.59" y2="288.6" stroke="#f23645" stroke-width="1"/>
<rect x="113.39" y="282.9" width="2.4" height="3.4" fill="#f23645"/>
<line x1="117.38" y1="283.8" x2="117.38" y2="287.7" stroke="#f23645" stroke-width="1"/>
<rect x="116.18" y="285.9" width="2.4" height="1.0" fill="#f23645"/>
<line x1="120.17" y1="280.0" x2="120.17" y2="287.3" stroke="#089981" stroke-width="1"/>
<rect x="118.97" y="280.9" width="2.4" height="4.6" fill="#089981"/>
<line x1="122.96" y1="276.4" x2="122.96" y2="281.4" stroke="#089981" stroke-width="1"/>
<rect x="121.76" y="279.0" width="2.4" height="1.0" fill="#089981"/>
<line x1="125.75" y1="274.4" x2="125.75" y2="280.8" stroke="#089981" stroke-width="1"/>
<rect x="124.55" y="275.0" width="2.4" height="3.8" fill="#089981"/>
<line x1="128.54" y1="272.0" x2="128.54" y2="276.7" stroke="#f23645" stroke-width="1"/>
<rect x="127.34" y="273.9" width="2.4" height="1.9" fill="#f23645"/>
<line x1="131.33" y1="269.3" x2="131.33" y2="276.9" stroke="#089981" stroke-width="1"/>
<rect x="130.13" y="270.0" width="2.4" height="4.5" fill="#089981"/>
<line x1="134.12" y1="263.7" x2="134.12" y2="271.8" stroke="#089981" stroke-width="1"/>
<rect x="132.92" y="264.7" width="2.4" height="5.5" fill="#089981"/>
<line x1="136.91" y1="260.1" x2="136.91" y2="267.4" stroke="#089981" stroke-width="1"/>
<rect x="135.71" y="261.0" width="2.4" height="4.0" fill="#089981"/>
<line x1="139.70" y1="258.3" x2="139.70" y2="267.4" stroke="#f23645" stroke-width="1"/>
<rect x="138.50" y="260.8" width="2.4" height="4.2" fill="#f23645"/>
<line x1="142.49" y1="262.1" x2="142.49" y2="270.1" stroke="#f23645" stroke-width="1"/>
<rect x="141.29" y="264.0" width="2.4" height="5.0" fill="#f23645"/>
<line x1="145.28" y1="267.9" x2="145.28" y2="274.1" stroke="#f23645" stroke-width="1"/>
<rect x="144.08" y="269.6" width="2.4" height="3.1" fill="#f23645"/>
<line x1="148.07" y1="273.2" x2="148.07" y2="276.8" stroke="#f23645" stroke-width="1"/>
<rect x="146.87" y="273.6" width="2.4" height="1.4" fill="#f23645"/>
<line x1="150.86" y1="274.6" x2="150.86" y2="278.1" stroke="#f23645" stroke-width="1"/>
<rect x="149.66" y="274.9" width="2.4" height="1.0" fill="#f23645"/>
<line x1="153.65" y1="272.1" x2="153.65" y2="277.3" stroke="#f23645" stroke-width="1"/>
<rect x="152.45" y="274.6" width="2.4" height="1.0" fill="#f23645"/>
<line x1="156.44" y1="271.5" x2="156.44" y2="277.1" stroke="#089981" stroke-width="1"/>
<rect x="155.24" y="274.3" width="2.4" height="2.2" fill="#089981"/>
<line x1="159.23" y1="273.9" x2="159.23" y2="278.2" stroke="#f23645" stroke-width="1"/>
<rect x="158.03" y="276.0" width="2.4" height="1.0" fill="#f23645"/>
<line x1="162.02" y1="272.9" x2="162.02" y2="277.4" stroke="#089981" stroke-width="1"/>
<rect x="160.82" y="275.3" width="2.4" height="1.0" fill="#089981"/>
<line x1="164.81" y1="273.1" x2="164.81" y2="278.3" stroke="#089981" stroke-width="1"/>
<rect x="163.61" y="275.0" width="2.4" height="2.2" fill="#089981"/>
<line x1="167.60" y1="273.0" x2="167.60" y2="277.6" stroke="#089981" stroke-width="1"/>
<rect x="166.40" y="273.9" width="2.4" height="1.0" fill="#089981"/>
<line x1="170.39" y1="272.9" x2="170.39" y2="275.7" stroke="#f23645" stroke-width="1"/>
<rect x="169.19" y="273.6" width="2.4" height="1.0" fill="#f23645"/>
<line x1="173.18" y1="272.3" x2="173.18" y2="276.8" stroke="#089981" stroke-width="1"/>
<rect x="171.98" y="273.0" width="2.4" height="1.5" fill="#089981"/>
<line x1="175.97" y1="269.4" x2="175.97" y2="278.6" stroke="#f23645" stroke-width="1"/>
<rect x="174.77" y="272.1" width="2.4" height="4.9" fill="#f23645"/>
<line x1="178.76" y1="273.3" x2="178.76" y2="284.0" stroke="#f23645" stroke-width="1"/>
<rect x="177.56" y="275.9" width="2.4" height="6.9" fill="#f23645"/>
<line x1="181.55" y1="281.8" x2="181.55" y2="284.8" stroke="#089981" stroke-width="1"/>
<rect x="180.35" y="283.4" width="2.4" height="0.9" fill="#089981"/>
<line x1="184.34" y1="281.8" x2="184.34" y2="284.7" stroke="#089981" stroke-width="1"/>
<rect x="183.14" y="282.4" width="2.4" height="1.6" fill="#089981"/>
<line x1="187.13" y1="280.7" x2="187.13" y2="285.6" stroke="#089981" stroke-width="1"/>
<rect x="185.93" y="281.1" width="2.4" height="1.8" fill="#089981"/>
<line x1="189.92" y1="277.4" x2="189.92" y2="280.7" stroke="#089981" stroke-width="1"/>
<rect x="188.72" y="279.0" width="2.4" height="1.1" fill="#089981"/>
<line x1="192.71" y1="248.8" x2="192.71" y2="281.0" stroke="#089981" stroke-width="1"/>
<rect x="191.51" y="251.0" width="2.4" height="28.0" fill="#089981"/>
<line x1="195.50" y1="240.3" x2="195.50" y2="253.7" stroke="#089981" stroke-width="1"/>
<rect x="194.30" y="240.6" width="2.4" height="10.3" fill="#089981"/>
<line x1="198.29" y1="238.2" x2="198.29" y2="244.7" stroke="#f23645" stroke-width="1"/>
<rect x="197.09" y="239.5" width="2.4" height="3.6" fill="#f23645"/>
<line x1="201.08" y1="241.7" x2="201.08" y2="247.5" stroke="#f23645" stroke-width="1"/>
<rect x="199.88" y="244.0" width="2.4" height="1.7" fill="#f23645"/>
<line x1="203.87" y1="243.1" x2="203.87" y2="249.2" stroke="#f23645" stroke-width="1"/>
<rect x="202.67" y="245.5" width="2.4" height="1.2" fill="#f23645"/>
<line x1="206.66" y1="245.5" x2="206.66" y2="249.0" stroke="#089981" stroke-width="1"/>
<rect x="205.46" y="247.5" width="2.4" height="1.0" fill="#089981"/>
<line x1="209.45" y1="246.4" x2="209.45" y2="252.6" stroke="#f23645" stroke-width="1"/>
<rect x="208.25" y="248.0" width="2.4" height="3.0" fill="#f23645"/>
<line x1="212.24" y1="250.9" x2="212.24" y2="256.5" stroke="#f23645" stroke-width="1"/>
<rect x="211.04" y="251.8" width="2.4" height="2.7" fill="#f23645"/>
<line x1="215.03" y1="252.0" x2="215.03" y2="256.8" stroke="#089981" stroke-width="1"/>
<rect x="213.83" y="254.2" width="2.4" height="1.8" fill="#089981"/>
<line x1="217.82" y1="252.4" x2="217.82" y2="256.8" stroke="#089981" stroke-width="1"/>
<rect x="216.62" y="253.0" width="2.4" height="2.9" fill="#089981"/>
<line x1="220.61" y1="246.9" x2="220.61" y2="256.6" stroke="#089981" stroke-width="1"/>
<rect x="219.41" y="248.0" width="2.4" height="6.0" fill="#089981"/>
<line x1="223.40" y1="211.6" x2="223.40" y2="250.3" stroke="#089981" stroke-width="1"/>
<rect x="222.20" y="212.0" width="2.4" height="36.0" fill="#089981"/>
<line x1="226.19" y1="203.9" x2="226.19" y2="211.2" stroke="#089981" stroke-width="1"/>
<rect x="224.99" y="206.3" width="2.4" height="4.6" fill="#089981"/>
<line x1="228.98" y1="198.3" x2="228.98" y2="207.9" stroke="#089981" stroke-width="1"/>
<rect x="227.78" y="199.0" width="2.4" height="7.7" fill="#089981"/>
<line x1="231.77" y1="182.3" x2="231.77" y2="202.0" stroke="#089981" stroke-width="1"/>
<rect x="230.57" y="183.8" width="2.4" height="16.3" fill="#089981"/>
<line x1="234.56" y1="176.8" x2="234.56" y2="186.8" stroke="#089981" stroke-width="1"/>
<rect x="233.36" y="177.3" width="2.4" height="7.0" fill="#089981"/>
<line x1="237.35" y1="171.3" x2="237.35" y2="180.0" stroke="#089981" stroke-width="1"/>
<rect x="236.15" y="172.0" width="2.4" height="6.3" fill="#089981"/>
<line x1="240.14" y1="166.4" x2="240.14" y2="171.9" stroke="#089981" stroke-width="1"/>
<rect x="238.94" y="168.5" width="2.4" height="3.0" fill="#089981"/>
<line x1="242.93" y1="162.3" x2="242.93" y2="170.7" stroke="#089981" stroke-width="1"/>
<rect x="241.73" y="164.6" width="2.4" height="3.9" fill="#089981"/>
<line x1="245.72" y1="161.5" x2="245.72" y2="165.7" stroke="#f23645" stroke-width="1"/>
<rect x="244.52" y="163.9" width="2.4" height="1.0" fill="#f23645"/>
<line x1="248.51" y1="162.2" x2="248.51" y2="165.3" stroke="#f23645" stroke-width="1"/>
<rect x="247.31" y="163.7" width="2.4" height="0.9" fill="#f23645"/>
<line x1="251.30" y1="162.8" x2="251.30" y2="174.8" stroke="#f23645" stroke-width="1"/>
<rect x="250.10" y="165.2" width="2.4" height="7.6" fill="#f23645"/>
<line x1="254.09" y1="173.0" x2="254.09" y2="177.6" stroke="#f23645" stroke-width="1"/>
<rect x="252.89" y="173.9" width="2.4" height="2.8" fill="#f23645"/>
<line x1="256.88" y1="174.3" x2="256.88" y2="182.3" stroke="#f23645" stroke-width="1"/>
<rect x="255.68" y="175.9" width="2.4" height="5.1" fill="#f23645"/>
<line x1="259.67" y1="179.2" x2="259.67" y2="187.0" stroke="#089981" stroke-width="1"/>
<rect x="258.47" y="180.7" width="2.4" height="5.3" fill="#089981"/>
<line x1="262.46" y1="181.7" x2="262.46" y2="185.0" stroke="#089981" stroke-width="1"/>
<rect x="261.26" y="183.1" width="2.4" height="1.0" fill="#089981"/>
<line x1="265.25" y1="180.4" x2="265.25" y2="184.7" stroke="#089981" stroke-width="1"/>
<rect x="264.05" y="183.0" width="2.4" height="0.9" fill="#089981"/>
<line x1="268.04" y1="179.6" x2="268.04" y2="184.3" stroke="#089981" stroke-width="1"/>
<rect x="266.84" y="181.5" width="2.4" height="1.9" fill="#089981"/>
<line x1="270.83" y1="176.3" x2="270.83" y2="182.6" stroke="#089981" stroke-width="1"/>
<rect x="269.63" y="179.0" width="2.4" height="2.4" fill="#089981"/>
<line x1="273.62" y1="162.3" x2="273.62" y2="180.7" stroke="#089981" stroke-width="1"/>
<rect x="272.42" y="164.7" width="2.4" height="14.8" fill="#089981"/>
<line x1="276.41" y1="162.4" x2="276.41" y2="166.8" stroke="#089981" stroke-width="1"/>
<rect x="275.21" y="164.3" width="2.4" height="1.0" fill="#089981"/>
<line x1="279.20" y1="165.1" x2="279.20" y2="169.5" stroke="#f23645" stroke-width="1"/>
<rect x="278.00" y="166.4" width="2.4" height="1.0" fill="#f23645"/>
<line x1="281.99" y1="160.4" x2="281.99" y2="167.6" stroke="#089981" stroke-width="1"/>
<rect x="280.79" y="163.0" width="2.4" height="3.0" fill="#089981"/>
<line x1="284.78" y1="161.0" x2="284.78" y2="172.5" stroke="#f23645" stroke-width="1"/>
<rect x="283.58" y="162.4" width="2.4" height="7.6" fill="#f23645"/>
<line x1="287.57" y1="168.0" x2="287.57" y2="171.6" stroke="#f23645" stroke-width="1"/>
<rect x="286.37" y="169.5" width="2.4" height="0.9" fill="#f23645"/>
<line x1="290.36" y1="167.3" x2="290.36" y2="171.6" stroke="#089981" stroke-width="1"/>
<rect x="289.16" y="170.0" width="2.4" height="1.0" fill="#089981"/>
<line x1="293.15" y1="167.9" x2="293.15" y2="172.8" stroke="#089981" stroke-width="1"/>
<rect x="291.95" y="170.4" width="2.4" height="1.6" fill="#089981"/>
<line x1="295.94" y1="166.7" x2="295.94" y2="172.3" stroke="#f23645" stroke-width="1"/>
<rect x="294.74" y="168.4" width="2.4" height="1.6" fill="#f23645"/>
<line x1="298.73" y1="166.7" x2="298.73" y2="174.8" stroke="#f23645" stroke-width="1"/>
<rect x="297.53" y="169.5" width="2.4" height="4.3" fill="#f23645"/>
<line x1="301.52" y1="171.6" x2="301.52" y2="175.7" stroke="#089981" stroke-width="1"/>
<rect x="300.32" y="173.1" width="2.4" height="0.9" fill="#089981"/>
<line x1="304.31" y1="171.5" x2="304.31" y2="174.9" stroke="#089981" stroke-width="1"/>
<rect x="303.11" y="172.1" width="2.4" height="1.0" fill="#089981"/>
<line x1="307.10" y1="171.4" x2="307.10" y2="178.2" stroke="#f23645" stroke-width="1"/>
<rect x="305.90" y="174.0" width="2.4" height="1.6" fill="#f23645"/>
<line x1="309.89" y1="173.0" x2="309.89" y2="177.0" stroke="#f23645" stroke-width="1"/>
<rect x="308.69" y="175.6" width="2.4" height="1.0" fill="#f23645"/>
<line x1="312.68" y1="168.3" x2="312.68" y2="177.8" stroke="#089981" stroke-width="1"/>
<rect x="311.48" y="169.3" width="2.4" height="7.4" fill="#089981"/>
<line x1="315.47" y1="166.5" x2="315.47" y2="176.0" stroke="#f23645" stroke-width="1"/>
<rect x="314.27" y="169.2" width="2.4" height="5.0" fill="#f23645"/>
<line x1="318.26" y1="172.6" x2="318.26" y2="183.6" stroke="#f23645" stroke-width="1"/>
<rect x="317.06" y="173.8" width="2.4" height="7.2" fill="#f23645"/>
<line x1="321.05" y1="181.1" x2="321.05" y2="189.3" stroke="#f23645" stroke-width="1"/>
<rect x="319.85" y="181.8" width="2.4" height="6.6" fill="#f23645"/>
<line x1="323.84" y1="187.3" x2="323.84" y2="195.7" stroke="#f23645" stroke-width="1"/>
<rect x="322.64" y="188.1" width="2.4" height="5.9" fill="#f23645"/>
<line x1="326.63" y1="191.6" x2="326.63" y2="197.4" stroke="#089981" stroke-width="1"/>
<rect x="325.43" y="193.3" width="2.4" height="1.5" fill="#089981"/>
<line x1="329.42" y1="193.1" x2="329.42" y2="196.5" stroke="#089981" stroke-width="1"/>
<rect x="328.22" y="193.6" width="2.4" height="2.0" fill="#089981"/>
<line x1="332.21" y1="189.1" x2="332.21" y2="194.7" stroke="#089981" stroke-width="1"/>
<rect x="331.01" y="191.0" width="2.4" height="2.4" fill="#089981"/>
<line x1="335.00" y1="189.1" x2="335.00" y2="192.0" stroke="#f23645" stroke-width="1"/>
<rect x="333.80" y="190.2" width="2.4" height="1.0" fill="#f23645"/>
<line x1="337.79" y1="188.0" x2="337.79" y2="192.5" stroke="#f23645" stroke-width="1"/>
<rect x="336.59" y="190.0" width="2.4" height="1.1" fill="#f23645"/>
<line x1="340.58" y1="189.1" x2="340.58" y2="193.2" stroke="#f23645" stroke-width="1"/>
<rect x="339.38" y="190.6" width="2.4" height="1.0" fill="#f23645"/>
<line x1="343.37" y1="189.5" x2="343.37" y2="194.6" stroke="#089981" stroke-width="1"/>
<rect x="342.17" y="191.0" width="2.4" height="0.9" fill="#089981"/>
<line x1="346.16" y1="189.3" x2="346.16" y2="193.2" stroke="#089981" stroke-width="1"/>
<rect x="344.96" y="191.7" width="2.4" height="0.9" fill="#089981"/>
<line x1="348.95" y1="190.5" x2="348.95" y2="197.5" stroke="#f23645" stroke-width="1"/>
<rect x="347.75" y="191.7" width="2.4" height="5.3" fill="#f23645"/>
<line x1="351.74" y1="189.2" x2="351.74" y2="197.6" stroke="#089981" stroke-width="1"/>
<rect x="350.54" y="189.7" width="2.4" height="7.0" fill="#089981"/>
<line x1="354.53" y1="185.5" x2="354.53" y2="192.5" stroke="#089981" stroke-width="1"/>
<rect x="353.33" y="187.5" width="2.4" height="2.9" fill="#089981"/>
<line x1="357.32" y1="183.8" x2="357.32" y2="186.8" stroke="#089981" stroke-width="1"/>
<rect x="356.12" y="184.5" width="2.4" height="2.0" fill="#089981"/>
<line x1="360.11" y1="166.4" x2="360.11" y2="186.2" stroke="#089981" stroke-width="1"/>
<rect x="358.91" y="167.0" width="2.4" height="16.5" fill="#089981"/>
<line x1="362.90" y1="167.1" x2="362.90" y2="170.9" stroke="#089981" stroke-width="1"/>
<rect x="361.70" y="167.9" width="2.4" height="2.1" fill="#089981"/>
<line x1="365.69" y1="155.0" x2="365.69" y2="172.3" stroke="#089981" stroke-width="1"/>
<rect x="364.49" y="156.7" width="2.4" height="14.4" fill="#089981"/>
<line x1="368.48" y1="152.7" x2="368.48" y2="158.4" stroke="#f23645" stroke-width="1"/>
<rect x="367.28" y="153.7" width="2.4" height="2.9" fill="#f23645"/>
<line x1="371.27" y1="149.0" x2="371.27" y2="156.6" stroke="#089981" stroke-width="1"/>
<rect x="370.07" y="150.6" width="2.4" height="3.7" fill="#089981"/>
<line x1="374.06" y1="147.9" x2="374.06" y2="165.8" stroke="#f23645" stroke-width="1"/>
<rect x="372.86" y="149.7" width="2.4" height="13.3" fill="#f23645"/>
<line x1="376.85" y1="160.6" x2="376.85" y2="165.9" stroke="#f23645" stroke-width="1"/>
<rect x="375.65" y="162.2" width="2.4" height="1.8" fill="#f23645"/>
<line x1="379.64" y1="162.0" x2="379.64" y2="204.0" stroke="#f23645" stroke-width="1"/>
<rect x="378.44" y="164.0" width="2.4" height="38.0" fill="#f23645"/>
<line x1="382.43" y1="189.1" x2="382.43" y2="202.3" stroke="#089981" stroke-width="1"/>
<rect x="381.23" y="191.7" width="2.4" height="10.2" fill="#089981"/>
<line x1="385.22" y1="192.0" x2="385.22" y2="201.2" stroke="#f23645" stroke-width="1"/>
<rect x="384.02" y="192.6" width="2.4" height="7.4" fill="#f23645"/>
<line x1="388.01" y1="198.5" x2="388.01" y2="204.4" stroke="#f23645" stroke-width="1"/>
<rect x="386.81" y="200.0" width="2.4" height="4.0" fill="#f23645"/>
<line x1="390.80" y1="200.9" x2="390.80" y2="205.7" stroke="#089981" stroke-width="1"/>
<rect x="389.60" y="202.1" width="2.4" height="1.0" fill="#089981"/>
<line x1="393.59" y1="200.0" x2="393.59" y2="206.6" stroke="#089981" stroke-width="1"/>
<rect x="392.39" y="201.7" width="2.4" height="2.3" fill="#089981"/>
<line x1="396.38" y1="199.8" x2="396.38" y2="203.2" stroke="#f23645" stroke-width="1"/>
<rect x="395.18" y="201.0" width="2.4" height="1.6" fill="#f23645"/>
<line x1="399.17" y1="196.9" x2="399.17" y2="201.6" stroke="#089981" stroke-width="1"/>
<rect x="397.97" y="198.0" width="2.4" height="3.3" fill="#089981"/>
<line x1="401.96" y1="195.3" x2="401.96" y2="200.8" stroke="#089981" stroke-width="1"/>
<rect x="400.76" y="198.0" width="2.4" height="1.2" fill="#089981"/>
<line x1="404.75" y1="194.3" x2="404.75" y2="200.9" stroke="#f23645" stroke-width="1"/>
<rect x="403.55" y="196.3" width="2.4" height="2.0" fill="#f23645"/>
<line x1="407.54" y1="194.4" x2="407.54" y2="197.9" stroke="#089981" stroke-width="1"/>
<rect x="406.34" y="196.1" width="2.4" height="1.0" fill="#089981"/>
<line x1="410.33" y1="195.0" x2="410.33" y2="198.4" stroke="#089981" stroke-width="1"/>
<rect x="409.13" y="196.6" width="2.4" height="0.9" fill="#089981"/>
<line x1="413.12" y1="192.9" x2="413.12" y2="197.2" stroke="#089981" stroke-width="1"/>
<rect x="411.92" y="194.1" width="2.4" height="1.0" fill="#089981"/>
<line x1="415.91" y1="192.0" x2="415.91" y2="202.1" stroke="#f23645" stroke-width="1"/>
<rect x="414.71" y="194.5" width="2.4" height="5.5" fill="#f23645"/>
<line x1="418.70" y1="195.5" x2="418.70" y2="200.9" stroke="#f23645" stroke-width="1"/>
<rect x="417.50" y="198.0" width="2.4" height="2.4" fill="#f23645"/>
<line x1="421.49" y1="188.5" x2="421.49" y2="199.8" stroke="#089981" stroke-width="1"/>
<rect x="420.29" y="191.1" width="2.4" height="6.2" fill="#089981"/>
<line x1="424.28" y1="181.8" x2="424.28" y2="190.4" stroke="#089981" stroke-width="1"/>
<rect x="423.08" y="184.0" width="2.4" height="6.1" fill="#089981"/>
<line x1="427.07" y1="181.4" x2="427.07" y2="184.2" stroke="#089981" stroke-width="1"/>
<rect x="425.87" y="182.0" width="2.4" height="1.1" fill="#089981"/>
<line x1="429.86" y1="178.0" x2="429.86" y2="183.1" stroke="#f23645" stroke-width="1"/>
<rect x="428.66" y="180.6" width="2.4" height="1.1" fill="#f23645"/>
<line x1="432.65" y1="177.0" x2="432.65" y2="180.0" stroke="#089981" stroke-width="1"/>
<rect x="431.45" y="178.0" width="2.4" height="1.7" fill="#089981"/>
<line x1="435.44" y1="169.3" x2="435.44" y2="178.4" stroke="#089981" stroke-width="1"/>
<rect x="434.24" y="170.7" width="2.4" height="6.2" fill="#089981"/>
<line x1="438.23" y1="159.5" x2="438.23" y2="170.7" stroke="#089981" stroke-width="1"/>
<rect x="437.03" y="160.7" width="2.4" height="9.4" fill="#089981"/>
<line x1="441.02" y1="154.3" x2="441.02" y2="161.8" stroke="#089981" stroke-width="1"/>
<rect x="439.82" y="155.6" width="2.4" height="5.5" fill="#089981"/>
<line x1="443.81" y1="153.2" x2="443.81" y2="156.6" stroke="#f23645" stroke-width="1"/>
<rect x="442.61" y="154.0" width="2.4" height="1.5" fill="#f23645"/>
<line x1="446.60" y1="149.1" x2="446.60" y2="154.1" stroke="#089981" stroke-width="1"/>
<rect x="445.40" y="151.4" width="2.4" height="1.7" fill="#089981"/>
<line x1="449.39" y1="139.7" x2="449.39" y2="153.2" stroke="#089981" stroke-width="1"/>
<rect x="448.19" y="141.0" width="2.4" height="11.5" fill="#089981"/>
<line x1="452.18" y1="134.9" x2="452.18" y2="144.0" stroke="#089981" stroke-width="1"/>
<rect x="450.98" y="137.0" width="2.4" height="4.5" fill="#089981"/>
<line x1="454.97" y1="133.8" x2="454.97" y2="139.6" stroke="#f23645" stroke-width="1"/>
<rect x="453.77" y="136.1" width="2.4" height="1.0" fill="#f23645"/>
<line x1="457.76" y1="135.3" x2="457.76" y2="141.8" stroke="#f23645" stroke-width="1"/>
<rect x="456.56" y="136.7" width="2.4" height="3.3" fill="#f23645"/>
<line x1="460.55" y1="136.5" x2="460.55" y2="142.0" stroke="#089981" stroke-width="1"/>
<rect x="459.35" y="139.0" width="2.4" height="1.0" fill="#089981"/>
<line x1="463.34" y1="139.6" x2="463.34" y2="143.5" stroke="#f23645" stroke-width="1"/>
<rect x="462.14" y="140.9" width="2.4" height="1.0" fill="#f23645"/>
<line x1="466.13" y1="136.9" x2="466.13" y2="142.4" stroke="#089981" stroke-width="1"/>
<rect x="464.93" y="138.0" width="2.4" height="2.3" fill="#089981"/>
<line x1="468.92" y1="123.0" x2="468.92" y2="139.5" stroke="#089981" stroke-width="1"/>
<rect x="467.72" y="134.0" width="2.4" height="5.1" fill="#089981"/>
<line x1="471.71" y1="131.6" x2="471.71" y2="157.9" stroke="#f23645" stroke-width="1"/>
<rect x="470.51" y="134.0" width="2.4" height="21.6" fill="#f23645"/>
<line x1="474.50" y1="153.4" x2="474.50" y2="157.5" stroke="#089981" stroke-width="1"/>
<rect x="473.30" y="154.9" width="2.4" height="1.0" fill="#089981"/>
<line x1="477.29" y1="154.9" x2="477.29" y2="157.0" stroke="#f23645" stroke-width="1"/>
<rect x="476.09" y="155.6" width="2.4" height="1.1" fill="#f23645"/>
<line x1="480.08" y1="154.4" x2="480.08" y2="160.7" stroke="#f23645" stroke-width="1"/>
<rect x="478.88" y="155.6" width="2.4" height="4.1" fill="#f23645"/>
<line x1="482.87" y1="156.0" x2="482.87" y2="160.9" stroke="#089981" stroke-width="1"/>
<rect x="481.67" y="158.1" width="2.4" height="2.3" fill="#089981"/>
<line x1="485.66" y1="154.8" x2="485.66" y2="160.6" stroke="#f23645" stroke-width="1"/>
<rect x="484.46" y="157.1" width="2.4" height="0.9" fill="#f23645"/>
<line x1="488.45" y1="154.5" x2="488.45" y2="161.8" stroke="#089981" stroke-width="1"/>
<rect x="487.25" y="156.8" width="2.4" height="4.6" fill="#089981"/>
<line x1="491.24" y1="153.9" x2="491.24" y2="164.5" stroke="#089981" stroke-width="1"/>
<rect x="490.04" y="155.7" width="2.4" height="6.1" fill="#089981"/>
<line x1="494.03" y1="150.5" x2="494.03" y2="158.0" stroke="#089981" stroke-width="1"/>
<rect x="492.83" y="151.0" width="2.4" height="5.0" fill="#089981"/>
<line x1="496.82" y1="148.0" x2="496.82" y2="152.3" stroke="#089981" stroke-width="1"/>
<rect x="495.62" y="150.4" width="2.4" height="1.5" fill="#089981"/>
<line x1="499.61" y1="148.0" x2="499.61" y2="152.2" stroke="#f23645" stroke-width="1"/>
<rect x="498.41" y="150.0" width="2.4" height="1.5" fill="#f23645"/>
<line x1="502.40" y1="144.6" x2="502.40" y2="152.5" stroke="#f23645" stroke-width="1"/>
<rect x="501.20" y="146.6" width="2.4" height="3.8" fill="#f23645"/>
<line x1="505.19" y1="146.2" x2="505.19" y2="156.4" stroke="#f23645" stroke-width="1"/>
<rect x="503.99" y="147.5" width="2.4" height="8.2" fill="#f23645"/>
<line x1="507.98" y1="153.9" x2="507.98" y2="159.4" stroke="#089981" stroke-width="1"/>
<rect x="506.78" y="155.1" width="2.4" height="3.9" fill="#089981"/>
<line x1="510.77" y1="159.0" x2="510.77" y2="161.8" stroke="#089981" stroke-width="1"/>
<rect x="509.57" y="159.5" width="2.4" height="1.9" fill="#089981"/>
<line x1="513.56" y1="158.7" x2="513.56" y2="163.4" stroke="#f23645" stroke-width="1"/>
<rect x="512.36" y="161.0" width="2.4" height="1.4" fill="#f23645"/>
<line x1="516.35" y1="155.6" x2="516.35" y2="162.5" stroke="#089981" stroke-width="1"/>
<rect x="515.15" y="158.0" width="2.4" height="2.7" fill="#089981"/>
<line x1="519.14" y1="156.0" x2="519.14" y2="167.3" stroke="#f23645" stroke-width="1"/>
<rect x="517.94" y="157.4" width="2.4" height="7.5" fill="#f23645"/>
<line x1="521.93" y1="167.0" x2="521.93" y2="185.0" stroke="#f23645" stroke-width="1"/>
<rect x="520.73" y="169.0" width="2.4" height="14.0" fill="#f23645"/>
<line x1="524.72" y1="174.0" x2="524.72" y2="199.0" stroke="#089981" stroke-width="1"/>
<rect x="523.52" y="176.0" width="2.4" height="21.0" fill="#089981"/>
<line x1="527.51" y1="171.0" x2="527.51" y2="207.0" stroke="#f23645" stroke-width="1"/>
<rect x="526.31" y="173.0" width="2.4" height="22.0" fill="#f23645"/>
<line x1="530.30" y1="182.0" x2="530.30" y2="196.0" stroke="#089981" stroke-width="1"/>
<rect x="529.10" y="184.0" width="2.4" height="10.0" fill="#089981"/>
<line x1="533.09" y1="181.6" x2="533.09" y2="184.9" stroke="#f23645" stroke-width="1"/>
<rect x="531.89" y="182.0" width="2.4" height="1.1" fill="#f23645"/>
<line x1="535.88" y1="176.3" x2="535.88" y2="183.6" stroke="#089981" stroke-width="1"/>
<rect x="534.68" y="178.0" width="2.4" height="3.3" fill="#089981"/>
<line x1="538.67" y1="168.8" x2="538.67" y2="180.0" stroke="#089981" stroke-width="1"/>
<rect x="537.47" y="169.4" width="2.4" height="9.5" fill="#089981"/>
<line x1="541.46" y1="166.4" x2="541.46" y2="170.5" stroke="#089981" stroke-width="1"/>
<rect x="540.26" y="167.6" width="2.4" height="1.6" fill="#089981"/>
<line x1="544.25" y1="163.8" x2="544.25" y2="168.6" stroke="#f23645" stroke-width="1"/>
<rect x="543.05" y="166.0" width="2.4" height="1.5" fill="#f23645"/>
<line x1="547.04" y1="164.3" x2="547.04" y2="168.2" stroke="#089981" stroke-width="1"/>
<rect x="545.84" y="165.6" width="2.4" height="1.9" fill="#089981"/>
<line x1="549.83" y1="165.7" x2="549.83" y2="170.4" stroke="#f23645" stroke-width="1"/>
<rect x="548.63" y="166.9" width="2.4" height="1.0" fill="#f23645"/>
<line x1="552.62" y1="160.5" x2="552.62" y2="168.7" stroke="#089981" stroke-width="1"/>
<rect x="551.42" y="161.4" width="2.4" height="6.4" fill="#089981"/>
<line x1="555.41" y1="155.7" x2="555.41" y2="162.4" stroke="#f23645" stroke-width="1"/>
<rect x="554.21" y="157.4" width="2.4" height="4.6" fill="#f23645"/>
<line x1="558.20" y1="154.4" x2="558.20" y2="160.0" stroke="#089981" stroke-width="1"/>
<rect x="557.00" y="155.7" width="2.4" height="2.1" fill="#089981"/>
<line x1="560.99" y1="153.7" x2="560.99" y2="160.0" stroke="#089981" stroke-width="1"/>
<rect x="559.79" y="156.3" width="2.4" height="1.7" fill="#089981"/>
<line x1="563.78" y1="147.9" x2="563.78" y2="160.1" stroke="#089981" stroke-width="1"/>
<rect x="562.58" y="148.9" width="2.4" height="10.1" fill="#089981"/>
<line x1="566.57" y1="139.5" x2="566.57" y2="148.5" stroke="#089981" stroke-width="1"/>
<rect x="565.37" y="142.0" width="2.4" height="5.8" fill="#089981"/>
<line x1="569.36" y1="134.7" x2="569.36" y2="144.5" stroke="#089981" stroke-width="1"/>
<rect x="568.16" y="136.3" width="2.4" height="5.8" fill="#089981"/>
<line x1="572.15" y1="133.4" x2="572.15" y2="137.3" stroke="#f23645" stroke-width="1"/>
<rect x="570.95" y="134.0" width="2.4" height="2.0" fill="#f23645"/>
<line x1="574.94" y1="131.8" x2="574.94" y2="135.7" stroke="#089981" stroke-width="1"/>
<rect x="573.74" y="132.9" width="2.4" height="0.9" fill="#089981"/>
<line x1="577.73" y1="125.5" x2="577.73" y2="133.5" stroke="#089981" stroke-width="1"/>
<rect x="576.53" y="128.3" width="2.4" height="3.5" fill="#089981"/>
<line x1="580.52" y1="125.4" x2="580.52" y2="158.6" stroke="#f23645" stroke-width="1"/>
<rect x="579.32" y="128.5" width="2.4" height="29.5" fill="#f23645"/>
<line x1="583.31" y1="154.9" x2="583.31" y2="159.3" stroke="#f23645" stroke-width="1"/>
<rect x="582.11" y="157.6" width="2.4" height="0.8" fill="#f23645"/>
<line x1="586.10" y1="158.5" x2="586.10" y2="161.5" stroke="#089981" stroke-width="1"/>
<rect x="584.90" y="159.0" width="2.4" height="0.9" fill="#089981"/>
<line x1="588.89" y1="159.4" x2="588.89" y2="178.6" stroke="#f23645" stroke-width="1"/>
<rect x="587.69" y="159.4" width="2.4" height="4.3" fill="#f23645"/>
<line x1="591.68" y1="160.8" x2="591.68" y2="164.5" stroke="#089981" stroke-width="1"/>
<rect x="590.48" y="162.6" width="2.4" height="1.2" fill="#089981"/>
<line x1="594.47" y1="155.2" x2="594.47" y2="163.5" stroke="#f23645" stroke-width="1"/>
<rect x="593.27" y="158.0" width="2.4" height="4.4" fill="#f23645"/>
<line x1="597.26" y1="70.0" x2="597.26" y2="154.0" stroke="#089981" stroke-width="1"/>
<rect x="596.06" y="72.6" width="2.4" height="79.4" fill="#089981"/>
<line x1="600.05" y1="24.6" x2="600.05" y2="74.0" stroke="#089981" stroke-width="1"/>
<rect x="598.85" y="54.3" width="2.4" height="17.7" fill="#089981"/>
<line x1="602.84" y1="53.0" x2="602.84" y2="65.7" stroke="#f23645" stroke-width="1"/>
<rect x="601.64" y="55.0" width="2.4" height="8.4" fill="#f23645"/>
<line x1="605.63" y1="63.2" x2="605.63" y2="72.7" stroke="#f23645" stroke-width="1"/>
<rect x="604.43" y="64.3" width="2.4" height="6.0" fill="#f23645"/>
<line x1="608.42" y1="69.4" x2="608.42" y2="75.1" stroke="#f23645" stroke-width="1"/>
<rect x="607.22" y="70.3" width="2.4" height="4.0" fill="#f23645"/>
<line x1="611.21" y1="73.1" x2="611.21" y2="77.5" stroke="#f23645" stroke-width="1"/>
<rect x="610.01" y="75.0" width="2.4" height="2.0" fill="#f23645"/>
<line x1="614.00" y1="76.8" x2="614.00" y2="89.9" stroke="#f23645" stroke-width="1"/>
<rect x="612.80" y="77.2" width="2.4" height="11.4" fill="#f23645"/>
<line x1="616.79" y1="86.8" x2="616.79" y2="95.0" stroke="#f23645" stroke-width="1"/>
<rect x="615.59" y="88.8" width="2.4" height="5.5" fill="#f23645"/>
<line x1="619.58" y1="91.9" x2="619.58" y2="96.9" stroke="#089981" stroke-width="1"/>
<rect x="618.38" y="93.6" width="2.4" height="0.9" fill="#089981"/>
<line x1="622.37" y1="91.8" x2="622.37" y2="96.1" stroke="#f23645" stroke-width="1"/>
<rect x="621.17" y="93.0" width="2.4" height="1.3" fill="#f23645"/>
<line x1="625.16" y1="88.4" x2="625.16" y2="95.1" stroke="#f23645" stroke-width="1"/>
<rect x="623.96" y="90.9" width="2.4" height="2.6" fill="#f23645"/>
<line x1="627.95" y1="86.4" x2="627.95" y2="92.6" stroke="#089981" stroke-width="1"/>
<rect x="626.75" y="87.5" width="2.4" height="4.3" fill="#089981"/>
<line x1="630.74" y1="83.3" x2="630.74" y2="88.8" stroke="#f23645" stroke-width="1"/>
<rect x="629.54" y="85.4" width="2.4" height="0.9" fill="#f23645"/>
<line x1="633.53" y1="84.2" x2="633.53" y2="93.6" stroke="#f23645" stroke-width="1"/>
<rect x="632.33" y="86.2" width="2.4" height="6.8" fill="#f23645"/>
<line x1="636.32" y1="92.3" x2="636.32" y2="96.0" stroke="#f23645" stroke-width="1"/>
<rect x="635.12" y="93.7" width="2.4" height="1.0" fill="#f23645"/>
<line x1="639.11" y1="91.1" x2="639.11" y2="97.4" stroke="#089981" stroke-width="1"/>
<rect x="637.91" y="93.0" width="2.4" height="2.4" fill="#089981"/>
<line x1="641.90" y1="91.2" x2="641.90" y2="97.2" stroke="#089981" stroke-width="1"/>
<rect x="640.70" y="93.4" width="2.4" height="2.3" fill="#089981"/>
<line x1="644.69" y1="89.4" x2="644.69" y2="96.8" stroke="#f23645" stroke-width="1"/>
<rect x="643.49" y="91.1" width="2.4" height="3.1" fill="#f23645"/>
<line x1="647.48" y1="86.8" x2="647.48" y2="91.7" stroke="#f23645" stroke-width="1"/>
<rect x="646.28" y="88.9" width="2.4" height="2.0" fill="#f23645"/>
<line x1="650.27" y1="85.3" x2="650.27" y2="96.9" stroke="#f23645" stroke-width="1"/>
<rect x="649.07" y="87.9" width="2.4" height="7.8" fill="#f23645"/>
<line x1="653.06" y1="92.8" x2="653.06" y2="105.2" stroke="#f23645" stroke-width="1"/>
<rect x="651.86" y="94.6" width="2.4" height="8.0" fill="#f23645"/>
<line x1="655.85" y1="100.9" x2="655.85" y2="107.2" stroke="#089981" stroke-width="1"/>
<rect x="654.65" y="103.7" width="2.4" height="0.9" fill="#089981"/>
<line x1="658.64" y1="102.7" x2="658.64" y2="106.5" stroke="#f23645" stroke-width="1"/>
<rect x="657.44" y="103.6" width="2.4" height="2.4" fill="#f23645"/>
<line x1="661.43" y1="103.6" x2="661.43" y2="110.1" stroke="#f23645" stroke-width="1"/>
<rect x="660.23" y="105.5" width="2.4" height="2.0" fill="#f23645"/>
<line x1="664.22" y1="103.9" x2="664.22" y2="112.2" stroke="#f23645" stroke-width="1"/>
<rect x="663.02" y="106.3" width="2.4" height="3.7" fill="#f23645"/>
<line x1="667.01" y1="109.8" x2="667.01" y2="118.4" stroke="#f23645" stroke-width="1"/>
<rect x="665.81" y="110.5" width="2.4" height="7.5" fill="#f23645"/>
<line x1="669.80" y1="16.0" x2="669.80" y2="87.0" stroke="#f23645" stroke-width="1"/>
<rect x="668.60" y="18.0" width="2.4" height="67.4" fill="#f23645"/>
<line x1="672.59" y1="73.0" x2="672.59" y2="87.8" stroke="#089981" stroke-width="1"/>
<rect x="671.39" y="73.4" width="2.4" height="11.6" fill="#089981"/>
<line x1="675.38" y1="58.0" x2="675.38" y2="86.0" stroke="#f23645" stroke-width="1"/>
<rect x="674.18" y="60.0" width="2.4" height="24.0" fill="#f23645"/>
<line x1="678.17" y1="80.6" x2="678.17" y2="84.7" stroke="#f23645" stroke-width="1"/>
<rect x="676.97" y="83.0" width="2.4" height="1.0" fill="#f23645"/>
<line x1="680.96" y1="81.2" x2="680.96" y2="84.3" stroke="#f23645" stroke-width="1"/>
<rect x="679.76" y="82.1" width="2.4" height="0.9" fill="#f23645"/>
<line x1="683.75" y1="77.2" x2="683.75" y2="86.4" stroke="#089981" stroke-width="1"/>
<rect x="682.55" y="78.6" width="2.4" height="5.3" fill="#089981"/>
<line x1="686.54" y1="76.6" x2="686.54" y2="79.8" stroke="#089981" stroke-width="1"/>
<rect x="685.34" y="77.6" width="2.4" height="1.2" fill="#089981"/>
<line x1="689.33" y1="74.7" x2="689.33" y2="81.0" stroke="#f23645" stroke-width="1"/>
<rect x="688.13" y="76.4" width="2.4" height="2.2" fill="#f23645"/>
<line x1="692.12" y1="27.0" x2="692.12" y2="80.0" stroke="#089981" stroke-width="1"/>
<rect x="690.92" y="58.0" width="2.4" height="21.0" fill="#089981"/>
<line x1="694.91" y1="55.1" x2="694.91" y2="69.3" stroke="#f23645" stroke-width="1"/>
<rect x="693.71" y="57.7" width="2.4" height="9.2" fill="#f23645"/>
<line x1="697.70" y1="65.0" x2="697.70" y2="76.8" stroke="#f23645" stroke-width="1"/>
<rect x="696.50" y="66.9" width="2.4" height="9.4" fill="#f23645"/>
<line x1="700.49" y1="74.1" x2="700.49" y2="83.9" stroke="#f23645" stroke-width="1"/>
<rect x="699.29" y="76.3" width="2.4" height="6.7" fill="#f23645"/>
<line x1="703.28" y1="66.6" x2="703.28" y2="82.6" stroke="#089981" stroke-width="1"/>
<rect x="702.08" y="67.0" width="2.4" height="14.9" fill="#089981"/>
<line x1="706.07" y1="64.1" x2="706.07" y2="70.1" stroke="#089981" stroke-width="1"/>
<rect x="704.87" y="66.4" width="2.4" height="2.3" fill="#089981"/>
<line x1="708.86" y1="67.6" x2="708.86" y2="71.6" stroke="#f23645" stroke-width="1"/>
<rect x="707.66" y="68.7" width="2.4" height="1.9" fill="#f23645"/>
<line x1="711.65" y1="60.4" x2="711.65" y2="71.5" stroke="#089981" stroke-width="1"/>
<rect x="710.45" y="62.6" width="2.4" height="8.1" fill="#089981"/>
<line x1="714.44" y1="60.5" x2="714.44" y2="69.7" stroke="#f23645" stroke-width="1"/>
<rect x="713.24" y="62.4" width="2.4" height="4.6" fill="#f23645"/>
<line x1="717.23" y1="65.2" x2="717.23" y2="72.3" stroke="#089981" stroke-width="1"/>
<rect x="716.03" y="66.4" width="2.4" height="4.2" fill="#089981"/>
<line x1="720.02" y1="67.9" x2="720.02" y2="73.6" stroke="#089981" stroke-width="1"/>
<rect x="718.82" y="69.7" width="2.4" height="1.1" fill="#089981"/>
<line x1="722.81" y1="67.9" x2="722.81" y2="70.9" stroke="#f23645" stroke-width="1"/>
<rect x="721.61" y="69.3" width="2.4" height="1.0" fill="#f23645"/>
<line x1="725.60" y1="66.7" x2="725.60" y2="74.6" stroke="#f23645" stroke-width="1"/>
<rect x="724.40" y="69.4" width="2.4" height="3.5" fill="#f23645"/>
<line x1="728.39" y1="68.3" x2="728.39" y2="74.1" stroke="#089981" stroke-width="1"/>
<rect x="727.19" y="69.4" width="2.4" height="2.8" fill="#089981"/>
<line x1="731.18" y1="64.6" x2="731.18" y2="71.8" stroke="#089981" stroke-width="1"/>
<rect x="729.98" y="66.0" width="2.4" height="4.3" fill="#089981"/>
<line x1="733.97" y1="65.8" x2="733.97" y2="69.9" stroke="#089981" stroke-width="1"/>
<rect x="732.77" y="66.3" width="2.4" height="0.9" fill="#089981"/>
<line x1="736.76" y1="63.8" x2="736.76" y2="68.5" stroke="#089981" stroke-width="1"/>
<rect x="735.56" y="64.9" width="2.4" height="1.4" fill="#089981"/>
<line x1="739.55" y1="63.6" x2="739.55" y2="72.6" stroke="#f23645" stroke-width="1"/>
<rect x="738.35" y="64.3" width="2.4" height="7.4" fill="#f23645"/>
<line x1="742.34" y1="140.5" x2="742.34" y2="159.0" stroke="#f23645" stroke-width="1"/>
<rect x="741.14" y="141.5" width="2.4" height="16.0" fill="#f23645"/>
<line x1="745.13" y1="155.2" x2="745.13" y2="160.6" stroke="#f23645" stroke-width="1"/>
<rect x="743.93" y="156.9" width="2.4" height="3.1" fill="#f23645"/>
<line x1="747.92" y1="158.0" x2="747.92" y2="163.8" stroke="#f23645" stroke-width="1"/>
<rect x="746.72" y="160.7" width="2.4" height="2.0" fill="#f23645"/>
<line x1="750.71" y1="152.1" x2="750.71" y2="164.5" stroke="#089981" stroke-width="1"/>
<rect x="749.51" y="153.9" width="2.4" height="8.5" fill="#089981"/>
<line x1="753.50" y1="150.9" x2="753.50" y2="158.2" stroke="#f23645" stroke-width="1"/>
<rect x="752.30" y="152.8" width="2.4" height="3.0" fill="#f23645"/>
<line x1="756.29" y1="155.1" x2="756.29" y2="160.0" stroke="#089981" stroke-width="1"/>
<rect x="755.09" y="156.5" width="2.4" height="1.1" fill="#089981"/>
<line x1="759.08" y1="151.8" x2="759.08" y2="158.7" stroke="#089981" stroke-width="1"/>
<rect x="757.88" y="152.6" width="2.4" height="5.1" fill="#089981"/>
<line x1="761.87" y1="148.3" x2="761.87" y2="155.1" stroke="#f23645" stroke-width="1"/>
<rect x="760.67" y="150.0" width="2.4" height="2.8" fill="#f23645"/>
<line x1="764.66" y1="149.7" x2="764.66" y2="152.7" stroke="#089981" stroke-width="1"/>
<rect x="763.46" y="150.5" width="2.4" height="1.0" fill="#089981"/>
<line x1="767.45" y1="148.6" x2="767.45" y2="152.9" stroke="#f23645" stroke-width="1"/>
<rect x="766.25" y="150.0" width="2.4" height="2.0" fill="#f23645"/>
<line x1="770.24" y1="147.5" x2="770.24" y2="152.2" stroke="#089981" stroke-width="1"/>
<rect x="769.04" y="148.9" width="2.4" height="2.2" fill="#089981"/>
<line x1="773.03" y1="140.3" x2="773.03" y2="149.9" stroke="#089981" stroke-width="1"/>
<rect x="771.83" y="141.4" width="2.4" height="7.5" fill="#089981"/>
<line x1="775.82" y1="136.5" x2="775.82" y2="143.1" stroke="#089981" stroke-width="1"/>
<rect x="774.62" y="138.8" width="2.4" height="3.0" fill="#089981"/>
<line x1="778.61" y1="136.5" x2="778.61" y2="143.5" stroke="#f23645" stroke-width="1"/>
<rect x="777.41" y="138.0" width="2.4" height="4.2" fill="#f23645"/>
<line x1="781.40" y1="141.1" x2="781.40" y2="146.1" stroke="#f23645" stroke-width="1"/>
<rect x="780.20" y="142.0" width="2.4" height="1.9" fill="#f23645"/>
<line x1="784.19" y1="142.8" x2="784.19" y2="149.7" stroke="#f23645" stroke-width="1"/>
<rect x="782.99" y="143.2" width="2.4" height="4.4" fill="#f23645"/>
<line x1="786.98" y1="139.1" x2="786.98" y2="148.9" stroke="#089981" stroke-width="1"/>
<rect x="785.78" y="140.0" width="2.4" height="8.2" fill="#089981"/>
<line x1="789.77" y1="136.3" x2="789.77" y2="141.1" stroke="#089981" stroke-width="1"/>
<rect x="788.57" y="138.9" width="2.4" height="1.3" fill="#089981"/>
<line x1="792.56" y1="138.0" x2="792.56" y2="142.8" stroke="#f23645" stroke-width="1"/>
<rect x="791.36" y="139.0" width="2.4" height="1.6" fill="#f23645"/>
<line x1="795.35" y1="138.8" x2="795.35" y2="142.8" stroke="#f23645" stroke-width="1"/>
<rect x="794.15" y="139.9" width="2.4" height="1.0" fill="#f23645"/>
<line x1="798.14" y1="139.3" x2="798.14" y2="145.2" stroke="#089981" stroke-width="1"/>
<rect x="796.94" y="140.1" width="2.4" height="3.8" fill="#089981"/>
<line x1="800.93" y1="140.3" x2="800.93" y2="146.6" stroke="#089981" stroke-width="1"/>
<rect x="799.73" y="142.6" width="2.4" height="2.4" fill="#089981"/>
<line x1="803.72" y1="142.3" x2="803.72" y2="148.9" stroke="#f23645" stroke-width="1"/>
<rect x="802.52" y="143.0" width="2.4" height="4.6" fill="#f23645"/>
<line x1="806.51" y1="147.7" x2="806.51" y2="152.1" stroke="#f23645" stroke-width="1"/>
<rect x="805.31" y="148.4" width="2.4" height="0.9" fill="#f23645"/>
<line x1="809.30" y1="147.1" x2="809.30" y2="151.2" stroke="#f23645" stroke-width="1"/>
<rect x="808.10" y="149.1" width="2.4" height="0.9" fill="#f23645"/>
<line x1="812.09" y1="148.0" x2="812.09" y2="157.2" stroke="#f23645" stroke-width="1"/>
<rect x="810.89" y="149.0" width="2.4" height="6.0" fill="#f23645"/>
<line x1="814.88" y1="149.1" x2="814.88" y2="155.7" stroke="#089981" stroke-width="1"/>
<rect x="813.68" y="151.4" width="2.4" height="3.4" fill="#089981"/>
<line x1="817.67" y1="146.4" x2="817.67" y2="154.3" stroke="#089981" stroke-width="1"/>
<rect x="816.47" y="148.9" width="2.4" height="3.3" fill="#089981"/>
<line x1="820.46" y1="147.3" x2="820.46" y2="149.6" stroke="#f23645" stroke-width="1"/>
<rect x="819.26" y="148.2" width="2.4" height="1.0" fill="#f23645"/>
<line x1="823.25" y1="145.5" x2="823.25" y2="150.0" stroke="#089981" stroke-width="1"/>
<rect x="822.05" y="147.6" width="2.4" height="0.9" fill="#089981"/>
<line x1="826.04" y1="141.6" x2="826.04" y2="149.4" stroke="#f23645" stroke-width="1"/>
<rect x="824.84" y="142.6" width="2.4" height="5.6" fill="#f23645"/>
<line x1="828.83" y1="132.2" x2="828.83" y2="144.1" stroke="#089981" stroke-width="1"/>
<rect x="827.63" y="135.0" width="2.4" height="8.5" fill="#089981"/>
<line x1="831.62" y1="132.5" x2="831.62" y2="135.4" stroke="#089981" stroke-width="1"/>
<rect x="830.42" y="134.2" width="2.4" height="1.0" fill="#089981"/>
<line x1="834.41" y1="131.6" x2="834.41" y2="136.6" stroke="#f23645" stroke-width="1"/>
<rect x="833.21" y="132.6" width="2.4" height="2.8" fill="#f23645"/>
<line x1="837.20" y1="122.8" x2="837.20" y2="134.2" stroke="#089981" stroke-width="1"/>
<rect x="836.00" y="125.0" width="2.4" height="8.7" fill="#089981"/>
<line x1="839.99" y1="121.3" x2="839.99" y2="127.9" stroke="#089981" stroke-width="1"/>
<rect x="838.79" y="121.6" width="2.4" height="3.8" fill="#089981"/>
<line x1="842.78" y1="119.1" x2="842.78" y2="122.2" stroke="#f23645" stroke-width="1"/>
<rect x="841.58" y="120.9" width="2.4" height="1.0" fill="#f23645"/>
<line x1="845.57" y1="118.4" x2="845.57" y2="124.1" stroke="#f23645" stroke-width="1"/>
<rect x="844.37" y="120.0" width="2.4" height="2.8" fill="#f23645"/>
<line x1="848.36" y1="122.6" x2="848.36" y2="126.8" stroke="#f23645" stroke-width="1"/>
<rect x="847.16" y="123.6" width="2.4" height="2.0" fill="#f23645"/>
<line x1="851.15" y1="123.1" x2="851.15" y2="128.7" stroke="#089981" stroke-width="1"/>
<rect x="849.95" y="124.6" width="2.4" height="1.4" fill="#089981"/>
<line x1="853.94" y1="123.2" x2="853.94" y2="130.7" stroke="#f23645" stroke-width="1"/>
<rect x="852.74" y="125.4" width="2.4" height="4.6" fill="#f23645"/>
<line x1="856.73" y1="129.3" x2="856.73" y2="137.0" stroke="#f23645" stroke-width="1"/>
<rect x="855.53" y="130.9" width="2.4" height="5.5" fill="#f23645"/>
<line x1="859.52" y1="132.3" x2="859.52" y2="137.7" stroke="#089981" stroke-width="1"/>
<rect x="858.32" y="134.8" width="2.4" height="2.3" fill="#089981"/>
<line x1="862.31" y1="116.0" x2="862.31" y2="138.0" stroke="#089981" stroke-width="1"/>
<rect x="861.11" y="117.0" width="2.4" height="20.0" fill="#089981"/>
<line x1="865.10" y1="106.0" x2="865.10" y2="119.0" stroke="#089981" stroke-width="1"/>
<rect x="863.90" y="108.6" width="2.4" height="9.4" fill="#089981"/>
<line x1="867.89" y1="107.0" x2="867.89" y2="112.0" stroke="#f23645" stroke-width="1"/>
<rect x="866.69" y="109.0" width="2.4" height="1.5" fill="#f23645"/>
<line x1="870.68" y1="106.5" x2="870.68" y2="111.0" stroke="#089981" stroke-width="1"/>
<rect x="869.48" y="108.0" width="2.4" height="2.0" fill="#089981"/>
<line x1="873.47" y1="106.0" x2="873.47" y2="122.5" stroke="#f23645" stroke-width="1"/>
<rect x="872.27" y="107.4" width="2.4" height="14.3" fill="#f23645"/>
<line x1="876.26" y1="119.5" x2="876.26" y2="125.5" stroke="#f23645" stroke-width="1"/>
<rect x="875.06" y="120.5" width="2.4" height="4.1" fill="#f23645"/>
<line x1="879.05" y1="120.0" x2="879.05" y2="128.5" stroke="#f23645" stroke-width="1"/>
<rect x="877.85" y="121.0" width="2.4" height="6.4" fill="#f23645"/>
<line x1="881.84" y1="128.5" x2="881.84" y2="138.5" stroke="#f23645" stroke-width="1"/>
<rect x="880.64" y="129.7" width="2.4" height="8.0" fill="#f23645"/>
<line x1="884.63" y1="133.0" x2="884.63" y2="140.5" stroke="#f23645" stroke-width="1"/>
<rect x="883.43" y="134.3" width="2.4" height="5.1" fill="#f23645"/>
<line x1="887.42" y1="136.5" x2="887.42" y2="144.5" stroke="#f23645" stroke-width="1"/>
<rect x="886.22" y="137.7" width="2.4" height="5.7" fill="#f23645"/>
<line x1="890.21" y1="139.5" x2="890.21" y2="146.0" stroke="#f23645" stroke-width="1"/>
<rect x="889.01" y="141.0" width="2.4" height="1.0" fill="#f23645"/>
<line x1="893.00" y1="126.0" x2="893.00" y2="142.0" stroke="#089981" stroke-width="1"/>
<rect x="891.80" y="129.0" width="2.4" height="11.6" fill="#089981"/>
<g transform="translate(54.8,406.3)"><path d="M-5.5,-1.5 L0,-6.5 L5.5,-1.5 L5.5,5 Q5.5,6 4.5,6 L-4.5,6 Q-5.5,6 -5.5,5 Z" fill="#fff" stroke="#3f8c80" stroke-width="1.3"/><text x="-2.3" y="3.9" font-size="8" font-family="Liberation Sans" font-weight="bold" fill="#3f8c80" textLength="4.6" lengthAdjust="spacingAndGlyphs">E</text></g>
<g transform="translate(220.8,406.3)"><path d="M-5.5,-1.5 L0,-6.5 L5.5,-1.5 L5.5,5 Q5.5,6 4.5,6 L-4.5,6 Q-5.5,6 -5.5,5 Z" fill="#fff" stroke="#3f8c80" stroke-width="1.3"/><text x="-2.3" y="3.9" font-size="8" font-family="Liberation Sans" font-weight="bold" fill="#3f8c80" textLength="4.6" lengthAdjust="spacingAndGlyphs">E</text></g>
<g transform="translate(418,406.3)"><path d="M-5.5,-1.5 L0,-6.5 L5.5,-1.5 L5.5,5 Q5.5,6 4.5,6 L-4.5,6 Q-5.5,6 -5.5,5 Z" fill="#fff" stroke="#3f8c80" stroke-width="1.3"/><text x="-2.3" y="3.9" font-size="8" font-family="Liberation Sans" font-weight="bold" fill="#3f8c80" textLength="4.6" lengthAdjust="spacingAndGlyphs">E</text></g>
<g transform="translate(595.3,406.3)"><path d="M-5.5,-1.5 L0,-6.5 L5.5,-1.5 L5.5,5 Q5.5,6 4.5,6 L-4.5,6 Q-5.5,6 -5.5,5 Z" fill="#fff" stroke="#3f8c80" stroke-width="1.3"/><text x="-2.3" y="3.9" font-size="8" font-family="Liberation Sans" font-weight="bold" fill="#3f8c80" textLength="4.6" lengthAdjust="spacingAndGlyphs">E</text></g>
<g transform="translate(739,406.3)"><path d="M-5.5,-1.5 L0,-6.5 L5.5,-1.5 L5.5,5 Q5.5,6 4.5,6 L-4.5,6 Q-5.5,6 -5.5,5 Z" fill="#fff" stroke="#3f8c80" stroke-width="1.3"/><text x="-2.3" y="3.9" font-size="8" font-family="Liberation Sans" font-weight="bold" fill="#3f8c80" textLength="4.6" lengthAdjust="spacingAndGlyphs">E</text></g>
<g transform="translate(893.1,406.3)"><circle r="6.1" fill="#fff" stroke="#7048ab" stroke-width="1.3"/><path transform="rotate(22) scale(0.72,0.95)" d="M0.4,-4.2 L-3.0,0.8 L-0.5,0.8 L-0.8,4.2 L2.9,-0.8 L0.3,-0.8 Z" fill="#7048ab"/></g>
<text x="7.0" y="12.8" font-family="Liberation Sans" font-size="8.6" font-weight="normal" fill="#ababab" text-anchor="start" textLength="44.6" lengthAdjust="spacingAndGlyphs">Exelixis, Inc.</text>
<text x="55.8" y="12.8" font-family="Liberation Sans" font-size="8.6" font-weight="normal" fill="#ababab" text-anchor="start" textLength="2.0" lengthAdjust="spacingAndGlyphs">·</text>
<text x="61.3" y="12.8" font-family="Liberation Sans" font-size="8.6" font-weight="normal" fill="#ababab" text-anchor="start" textLength="7.5" lengthAdjust="spacingAndGlyphs">1D</text>
<text x="72.6" y="12.8" font-family="Liberation Sans" font-size="8.6" font-weight="normal" fill="#ababab" text-anchor="start" textLength="2.0" lengthAdjust="spacingAndGlyphs">·</text>
<text x="77.8" y="12.8" font-family="Liberation Sans" font-size="8.6" font-weight="normal" fill="#ababab" text-anchor="start" textLength="28.5" lengthAdjust="spacingAndGlyphs">NASDAQ</text>
<text x="111.3" y="12.8" font-family="Liberation Sans" font-size="8.6" font-weight="normal" fill="#ababab" text-anchor="start" textLength="5.1" lengthAdjust="spacingAndGlyphs">O</text>
<text x="116.6" y="12.8" font-family="Liberation Sans" font-size="8.6" font-weight="normal" fill="#30967f" text-anchor="start" textLength="19.4" lengthAdjust="spacingAndGlyphs">38.46</text>
<text x="141.0" y="12.8" font-family="Liberation Sans" font-size="8.6" font-weight="normal" fill="#ababab" text-anchor="start" textLength="4.0" lengthAdjust="spacingAndGlyphs">H</text>
<text x="145.0" y="12.8" font-family="Liberation Sans" font-size="8.6" font-weight="normal" fill="#30967f" text-anchor="start" textLength="20.0" lengthAdjust="spacingAndGlyphs">39.90</text>
<text x="170.5" y="12.8" font-family="Liberation Sans" font-size="8.6" font-weight="normal" fill="#ababab" text-anchor="start" textLength="3.3" lengthAdjust="spacingAndGlyphs">L</text>
<text x="174.0" y="12.8" font-family="Liberation Sans" font-size="8.6" font-weight="normal" fill="#30967f" text-anchor="start" textLength="20.7" lengthAdjust="spacingAndGlyphs">38.18</text>
<text x="200.0" y="12.8" font-family="Liberation Sans" font-size="8.6" font-weight="normal" fill="#ababab" text-anchor="start" textLength="4.0" lengthAdjust="spacingAndGlyphs">C</text>
<text x="204.2" y="12.8" font-family="Liberation Sans" font-size="8.6" font-weight="normal" fill="#30967f" text-anchor="start" textLength="18.6" lengthAdjust="spacingAndGlyphs">39.51</text>
<text x="229.0" y="12.8" font-family="Liberation Sans" font-size="8.6" font-weight="normal" fill="#30967f" text-anchor="start" textLength="18.8" lengthAdjust="spacingAndGlyphs">+1.07</text>
<text x="251.0" y="12.8" font-family="Liberation Sans" font-size="8.6" font-weight="normal" fill="#30967f" text-anchor="start" textLength="30.4" lengthAdjust="spacingAndGlyphs">(+2.78%)</text>
<text x="928.4" y="15.0" font-family="Liberation Sans" font-size="8.2" font-weight="normal" fill="#b4b4b4" text-anchor="start" textLength="19.6" lengthAdjust="spacingAndGlyphs">50.00</text>
<text x="928.4" y="37.2" font-family="Liberation Sans" font-size="8.2" font-weight="normal" fill="#b4b4b4" text-anchor="start" textLength="19.6" lengthAdjust="spacingAndGlyphs">48.00</text>
<text x="928.4" y="59.3" font-family="Liberation Sans" font-size="8.2" font-weight="normal" fill="#b4b4b4" text-anchor="start" textLength="19.6" lengthAdjust="spacingAndGlyphs">46.00</text>
<text x="928.4" y="192.1" font-family="Liberation Sans" font-size="8.2" font-weight="normal" fill="#b4b4b4" text-anchor="start" textLength="19.6" lengthAdjust="spacingAndGlyphs">34.00</text>
<text x="928.4" y="214.3" font-family="Liberation Sans" font-size="8.2" font-weight="normal" fill="#b4b4b4" text-anchor="start" textLength="19.6" lengthAdjust="spacingAndGlyphs">32.00</text>
<text x="928.4" y="236.5" font-family="Liberation Sans" font-size="8.2" font-weight="normal" fill="#b4b4b4" text-anchor="start" textLength="19.6" lengthAdjust="spacingAndGlyphs">30.00</text>
<text x="928.4" y="258.7" font-family="Liberation Sans" font-size="8.2" font-weight="normal" fill="#b4b4b4" text-anchor="start" textLength="19.6" lengthAdjust="spacingAndGlyphs">28.00</text>
<text x="928.4" y="280.9" font-family="Liberation Sans" font-size="8.2" font-weight="normal" fill="#b4b4b4" text-anchor="start" textLength="19.6" lengthAdjust="spacingAndGlyphs">26.00</text>
<text x="928.4" y="303.1" font-family="Liberation Sans" font-size="8.2" font-weight="normal" fill="#b4b4b4" text-anchor="start" textLength="19.6" lengthAdjust="spacingAndGlyphs">24.00</text>
<text x="928.4" y="325.3" font-family="Liberation Sans" font-size="8.2" font-weight="normal" fill="#b4b4b4" text-anchor="start" textLength="19.6" lengthAdjust="spacingAndGlyphs">22.00</text>
<text x="928.4" y="347.5" font-family="Liberation Sans" font-size="8.2" font-weight="normal" fill="#b4b4b4" text-anchor="start" textLength="19.6" lengthAdjust="spacingAndGlyphs">20.00</text>
<text x="928.4" y="369.7" font-family="Liberation Sans" font-size="8.2" font-weight="normal" fill="#b4b4b4" text-anchor="start" textLength="19.6" lengthAdjust="spacingAndGlyphs">18.00</text>
<text x="928.4" y="391.9" font-family="Liberation Sans" font-size="8.2" font-weight="normal" fill="#b4b4b4" text-anchor="start" textLength="19.6" lengthAdjust="spacingAndGlyphs">16.00</text>
<text x="928.4" y="414.1" font-family="Liberation Sans" font-size="8.2" font-weight="normal" fill="#b4b4b4" text-anchor="start" textLength="19.6" lengthAdjust="spacingAndGlyphs">14.00</text>
<rect x="923.2" y="77.50" width="29.0" height="11.28" fill="#e5484d"/>
<text x="928.8" y="85.8" font-family="Liberation Sans" font-size="8.2" font-weight="normal" fill="#ffffff" text-anchor="start" textLength="19.5" lengthAdjust="spacingAndGlyphs">41.64</text>
<rect x="923.2" y="88.78" width="29.0" height="11.28" fill="#ef9334"/>
<text x="928.8" y="97.08" font-family="Liberation Sans" font-size="8.2" font-weight="normal" fill="#ffffff" text-anchor="start" textLength="19.5" lengthAdjust="spacingAndGlyphs">40.44</text>
<rect x="923.2" y="100.06" width="29.0" height="11.28" fill="#43b0d6"/>
<text x="928.8" y="108.36" font-family="Liberation Sans" font-size="8.2" font-weight="normal" fill="#10324a" text-anchor="start" textLength="19.5" lengthAdjust="spacingAndGlyphs">39.72</text>
<rect x="923.2" y="111.34" width="29.0" height="11.28" fill="#2d62f0"/>
<text x="928.8" y="119.64" font-family="Liberation Sans" font-size="8.2" font-weight="normal" fill="#ffffff" text-anchor="start" textLength="19.5" lengthAdjust="spacingAndGlyphs">39.72</text>
<rect x="923.2" y="122.62" width="29.0" height="11.28" fill="#2f9e8b"/>
<text x="928.8" y="130.92" font-family="Liberation Sans" font-size="8.2" font-weight="normal" fill="#ffffff" text-anchor="start" textLength="19.5" lengthAdjust="spacingAndGlyphs">39.51</text>
<rect x="923.2" y="133.90" width="29.0" height="11.28" fill="#2a5a2c"/>
<text x="928.8" y="142.2" font-family="Liberation Sans" font-size="8.2" font-weight="normal" fill="#f2f2d8" text-anchor="start" textLength="19.5" lengthAdjust="spacingAndGlyphs">38.66</text>
<rect x="923.2" y="145.18" width="29.0" height="11.28" fill="#e34b52"/>
<text x="928.8" y="153.48" font-family="Liberation Sans" font-size="8.2" font-weight="normal" fill="#ffffff" text-anchor="start" textLength="19.5" lengthAdjust="spacingAndGlyphs">38.54</text>
<rect x="923.2" y="156.46" width="29.0" height="11.28" fill="#36a08c"/>
<text x="928.8" y="164.76" font-family="Liberation Sans" font-size="8.2" font-weight="normal" fill="#ffffff" text-anchor="start" textLength="19.5" lengthAdjust="spacingAndGlyphs">37.81</text>
<rect x="923.2" y="167.74" width="29.0" height="11.28" fill="#0d0d0d"/>
<text x="928.8" y="176.04" font-family="Liberation Sans" font-size="8.2" font-weight="normal" fill="#ffffff" text-anchor="start" textLength="19.5" lengthAdjust="spacingAndGlyphs">37.60</text>
<rect x="900" y="122.62" width="23.5" height="11.28" fill="#2f9e8b"/>
<text x="902.3" y="130.92" font-family="Liberation Sans" font-size="8.2" font-weight="normal" fill="#ffffff" text-anchor="start" textLength="16.2" lengthAdjust="spacingAndGlyphs">EXEL</text>
<rect x="923.2" y="388.6" width="31.6" height="11.3" fill="#3aa391" rx="0.5"/>
<text x="928.8" y="397.3" font-family="Liberation Sans" font-size="8.0" font-weight="normal" fill="#ffffff" text-anchor="start" textLength="22.6" lengthAdjust="spacingAndGlyphs">3.14M</text>
<text x="39.5" y="428.2" font-family="Liberation Sans" font-size="8.4" font-weight="normal" fill="#b0b0b0" text-anchor="start" textLength="13.5" lengthAdjust="spacingAndGlyphs">Aug</text>
<text x="101.25" y="428.2" font-family="Liberation Sans" font-size="8.4" font-weight="normal" fill="#b0b0b0" text-anchor="start" textLength="13.5" lengthAdjust="spacingAndGlyphs">Sep</text>
<text x="158.0" y="428.2" font-family="Liberation Sans" font-size="8.4" font-weight="normal" fill="#b0b0b0" text-anchor="start" textLength="12.5" lengthAdjust="spacingAndGlyphs">Oct</text>
<text x="222.25" y="428.2" font-family="Liberation Sans" font-size="8.4" font-weight="normal" fill="#b0b0b0" text-anchor="start" textLength="14" lengthAdjust="spacingAndGlyphs">Nov</text>
<text x="278.62" y="428.2" font-family="Liberation Sans" font-size="8.4" font-weight="normal" fill="#b0b0b0" text-anchor="start" textLength="13.75" lengthAdjust="spacingAndGlyphs">Dec</text>
<text x="335.5" y="428.2" font-family="Liberation Sans" font-size="8.4" font-weight="bold" fill="#8f8f8f" text-anchor="start" textLength="18" lengthAdjust="spacingAndGlyphs">2025</text>
<text x="394.25" y="428.2" font-family="Liberation Sans" font-size="8.4" font-weight="normal" fill="#b0b0b0" text-anchor="start" textLength="13" lengthAdjust="spacingAndGlyphs">Feb</text>
<text x="446.75" y="428.2" font-family="Liberation Sans" font-size="8.4" font-weight="normal" fill="#b0b0b0" text-anchor="start" textLength="14" lengthAdjust="spacingAndGlyphs">Mar</text>
<text x="506.75" y="428.2" font-family="Liberation Sans" font-size="8.4" font-weight="normal" fill="#b0b0b0" text-anchor="start" textLength="13" lengthAdjust="spacingAndGlyphs">Apr</text>
<text x="564.75" y="428.2" font-family="Liberation Sans" font-size="8.4" font-weight="normal" fill="#b0b0b0" text-anchor="start" textLength="14.5" lengthAdjust="spacingAndGlyphs">May</text>
<text x="625.5" y="428.2" font-family="Liberation Sans" font-size="8.4" font-weight="normal" fill="#b0b0b0" text-anchor="start" textLength="12.5" lengthAdjust="spacingAndGlyphs">Jun</text>
<text x="682.5" y="428.2" font-family="Liberation Sans" font-size="8.4" font-weight="normal" fill="#b0b0b0" text-anchor="start" textLength="10" lengthAdjust="spacingAndGlyphs">Jul</text>
<text x="742.75" y="428.2" font-family="Liberation Sans" font-size="8.4" font-weight="normal" fill="#b0b0b0" text-anchor="start" textLength="13.5" lengthAdjust="spacingAndGlyphs">Aug</text>
<text x="802.0" y="428.2" font-family="Liberation Sans" font-size="8.4" font-weight="normal" fill="#b0b0b0" text-anchor="start" textLength="13.5" lengthAdjust="spacingAndGlyphs">Sep</text>
<text x="861.25" y="428.2" font-family="Liberation Sans" font-size="8.4" font-weight="normal" fill="#b0b0b0" text-anchor="start" textLength="12.5" lengthAdjust="spacingAndGlyphs">Oct</text>
<rect x="957" y="0" width="1" height="434" fill="#ececec"/>
<rect x="0" y="0" width="2.5" height="434" fill="#f6f6f6"/>
<rect x="0" y="433" width="958" height="1" fill="#ececec"/>
</g>
</svg>
</body></html>
